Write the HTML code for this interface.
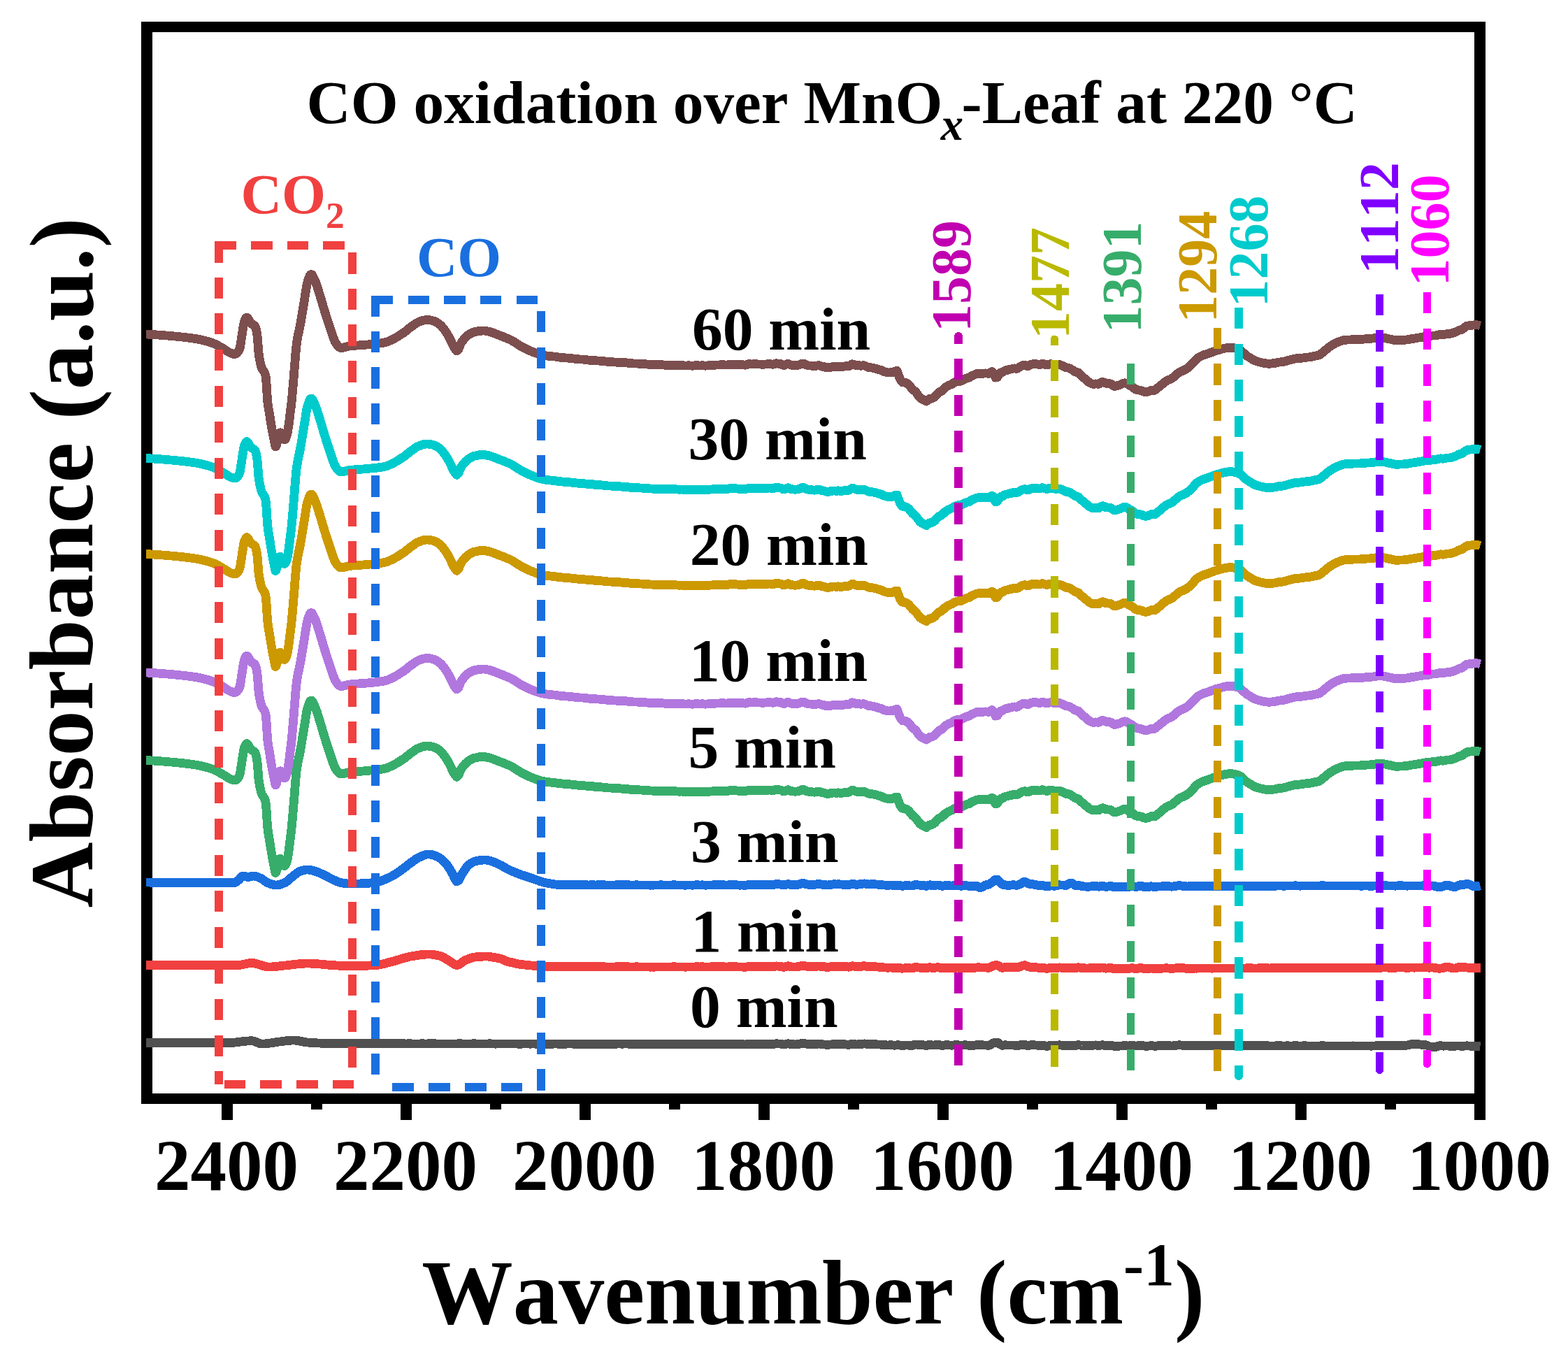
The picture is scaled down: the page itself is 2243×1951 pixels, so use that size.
<!DOCTYPE html>
<html lang="en">
<head>
<meta charset="utf-8">
<title>CO oxidation over MnOx-Leaf at 220 °C</title>
<style>
html,body{margin:0;padding:0;background:#fff;}
body{width:2243px;height:1951px;overflow:hidden;}
svg{display:block;}
svg text{font-family:"Liberation Serif",serif;font-weight:bold;font-kerning:none;font-variant-ligatures:none;white-space:pre;}
.curves path{fill:none;stroke-width:12.8;stroke-linejoin:round;stroke-linecap:butt;}
</style>
</head>
<body>
<svg width="2243" height="1951" viewBox="0 0 2243 1951">
<rect width="2243" height="1951" fill="#fff"/>
<g class="frame" shape-rendering="crispEdges">
<path d="M202 31H2125V1579H202Z M218 46V1564H2109V46Z" fill="#000" fill-rule="evenodd"/>
<g fill="#000"><rect x="317" y="1578" width="16" height="24"/><rect x="573" y="1578" width="16" height="24"/><rect x="829" y="1578" width="16" height="24"/><rect x="1085" y="1578" width="16" height="24"/><rect x="1341" y="1578" width="16" height="24"/><rect x="1597" y="1578" width="16" height="24"/><rect x="1853" y="1578" width="16" height="24"/><rect x="2109" y="1578" width="16" height="24"/><rect x="445" y="1578" width="16" height="9"/><rect x="701" y="1578" width="16" height="9"/><rect x="957" y="1578" width="16" height="9"/><rect x="1213" y="1578" width="16" height="9"/><rect x="1469" y="1578" width="16" height="9"/><rect x="1725" y="1578" width="16" height="9"/><rect x="1981" y="1578" width="16" height="9"/></g>
</g>
<g class="curves" shape-rendering="crispEdges">
<path d="M209.0 1491.8L210.0 1491.8L211.0 1491.8L212.0 1491.8L213.0 1491.8L214.0 1491.8L215.0 1491.8L216.0 1491.8L217.0 1491.8L218.0 1491.8L219.0 1491.8L220.0 1491.8L221.0 1491.8L222.0 1491.8L223.0 1491.8L224.0 1491.8L225.0 1491.8L226.0 1491.8L227.0 1491.8L228.0 1491.8L229.0 1491.8L230.0 1491.8L231.0 1491.8L232.0 1491.8L233.0 1491.8L234.0 1491.8L235.0 1491.8L236.0 1491.8L237.0 1491.8L238.0 1491.8L239.0 1491.8L240.0 1491.8L241.0 1491.8L242.0 1491.8L243.0 1491.8L244.0 1491.8L245.0 1491.8L246.0 1491.8L247.0 1491.8L248.0 1491.8L249.0 1491.8L250.0 1491.8L251.0 1491.8L252.0 1491.8L253.0 1491.8L254.0 1491.8L255.0 1491.8L256.0 1491.8L257.0 1491.8L258.0 1491.8L259.0 1491.8L260.0 1491.8L261.0 1491.8L262.0 1491.8L263.0 1491.8L264.0 1491.8L265.0 1491.8L266.0 1491.8L267.0 1491.8L268.0 1491.8L269.0 1491.8L270.0 1491.8L271.0 1491.8L272.0 1491.8L273.0 1491.8L274.0 1491.8L275.0 1491.8L276.0 1491.8L277.0 1491.8L278.0 1491.8L279.0 1491.8L280.0 1491.8L281.0 1491.8L282.0 1491.8L283.0 1491.8L284.0 1491.8L285.0 1491.8L286.0 1491.8L287.0 1491.8L288.0 1491.8L289.0 1491.8L290.0 1491.8L291.0 1491.8L292.0 1491.8L293.0 1491.8L294.0 1491.8L295.0 1491.8L296.0 1491.8L297.0 1491.8L298.0 1491.8L299.0 1491.8L300.0 1491.8L301.0 1491.8L302.0 1491.8L303.0 1491.8L304.0 1491.8L305.0 1491.8L306.0 1491.8L307.0 1491.8L308.0 1491.8L309.0 1491.8L310.0 1491.8L311.0 1491.8L312.0 1491.8L313.0 1491.8L314.0 1491.8L315.0 1491.8L316.0 1491.8L317.0 1491.8L318.0 1491.8L319.0 1491.8L320.0 1491.8L321.0 1491.8L322.0 1491.8L323.0 1491.8L324.0 1491.8L325.0 1491.8L326.0 1491.7L327.0 1491.7L328.0 1491.7L329.0 1491.6L330.0 1491.6L331.0 1491.5L332.0 1491.4L333.0 1491.4L334.0 1491.3L335.0 1491.2L336.0 1491.0L337.0 1490.9L338.0 1490.8L339.0 1490.7L340.0 1490.6L341.0 1490.4L342.0 1490.3L343.0 1490.2L344.0 1490.1L345.0 1489.9L346.0 1489.8L347.0 1489.7L348.0 1489.6L349.0 1489.5L350.0 1489.3L351.0 1489.2L352.0 1489.1L353.0 1489.1L354.0 1489.0L355.0 1488.9L356.0 1488.9L357.0 1488.8L358.0 1488.8L359.0 1488.8L360.0 1488.8L361.0 1488.8L362.0 1489.0L363.0 1489.2L364.0 1489.5L365.0 1489.9L366.0 1490.2L367.0 1490.7L368.0 1491.1L369.0 1491.5L370.0 1491.9L371.0 1492.3L372.0 1492.6L373.0 1492.8L374.0 1492.9L375.0 1493.0L376.0 1493.0L377.0 1493.0L378.0 1492.9L379.0 1492.9L380.0 1492.8L381.0 1492.7L382.0 1492.6L383.0 1492.5L384.0 1492.3L385.0 1492.2L386.0 1492.1L387.0 1491.9L388.0 1491.8L389.0 1491.6L390.0 1491.4L391.0 1491.3L392.0 1491.1L393.0 1491.0L394.0 1490.8L395.0 1490.7L396.0 1490.5L397.0 1490.4L398.0 1490.2L399.0 1490.1L400.0 1490.0L401.0 1489.9L402.0 1489.8L403.0 1489.6L404.0 1489.5L405.0 1489.4L406.0 1489.2L407.0 1489.1L408.0 1489.0L409.0 1488.9L410.0 1488.7L411.0 1488.6L412.0 1488.5L413.0 1488.4L414.0 1488.3L415.0 1488.2L416.0 1488.1L417.0 1488.1L418.0 1488.0L419.0 1488.0L420.0 1488.0L421.0 1488.0L422.0 1488.1L423.0 1488.2L424.0 1488.3L425.0 1488.4L426.0 1488.6L427.0 1488.7L428.0 1488.9L429.0 1489.1L430.0 1489.3L431.0 1489.5L432.0 1489.7L433.0 1489.9L434.0 1490.1L435.0 1490.3L436.0 1490.5L437.0 1490.7L438.0 1490.8L439.0 1490.9L440.0 1491.0L441.0 1491.1L442.0 1491.1L443.0 1491.2L444.0 1491.3L445.0 1491.3L446.0 1491.4L447.0 1491.5L448.0 1491.5L449.0 1491.6L450.0 1491.6L451.0 1491.7L452.0 1491.8L453.0 1491.8L454.0 1491.9L455.0 1491.9L456.0 1492.0L457.0 1492.0L458.0 1492.1L459.0 1492.1L460.0 1492.1L461.0 1492.2L462.0 1492.2L463.0 1492.3L464.0 1492.3L465.0 1492.3L466.0 1492.3L467.0 1492.4L468.0 1492.4L469.0 1492.4L470.0 1492.4L471.0 1492.5L472.0 1492.5L473.0 1492.5L474.0 1492.5L475.0 1492.5L476.0 1492.5L477.0 1492.5L478.0 1492.5L479.0 1492.5L480.0 1492.5L481.0 1492.5L482.0 1492.5L483.0 1492.5L484.0 1492.5L485.0 1492.5L486.0 1492.6L487.0 1492.6L488.0 1492.6L489.0 1492.6L490.0 1492.6L491.0 1492.6L492.0 1492.6L493.0 1492.6L494.0 1492.6L495.0 1492.6L496.0 1492.6L497.0 1492.6L498.0 1492.6L499.0 1492.6L500.0 1492.6L501.0 1492.6L502.0 1492.6L503.0 1492.6L504.0 1492.6L505.0 1492.6L506.0 1492.6L507.0 1492.6L508.0 1492.6L509.0 1492.6L510.0 1492.7L511.0 1492.7L512.0 1492.7L513.0 1492.7L514.0 1492.7L515.0 1492.7L516.0 1492.7L517.0 1492.7L518.0 1492.7L519.0 1492.7L520.0 1492.7L522.5 1492.7L524.9 1492.7L527.4 1492.7L529.9 1492.7L532.4 1492.7L534.8 1492.7L537.3 1492.7L539.8 1492.7L542.2 1492.7L544.7 1492.8L547.2 1492.8L549.6 1492.8L552.1 1492.8L554.6 1492.7L557.1 1492.7L559.5 1492.8L562.0 1492.8L564.5 1492.8L566.9 1492.7L569.4 1492.8L571.9 1492.7L574.3 1492.8L576.8 1492.8L579.3 1492.9L581.8 1492.9L584.2 1492.8L586.7 1492.8L589.2 1492.9L591.6 1493.0L594.1 1492.9L596.6 1492.9L599.0 1493.0L601.5 1492.9L604.0 1492.8L606.5 1492.9L608.9 1492.9L611.4 1492.9L613.9 1492.8L616.3 1492.8L618.8 1492.8L621.3 1492.8L623.7 1492.9L626.2 1492.9L628.7 1492.9L631.2 1492.9L633.6 1493.0L636.1 1493.0L638.6 1492.9L641.0 1492.9L643.5 1492.9L646.0 1492.9L648.4 1493.0L650.9 1493.0L653.4 1493.0L655.9 1492.8L658.3 1492.7L660.8 1492.9L663.3 1493.0L665.7 1493.0L668.2 1493.0L670.7 1492.9L673.1 1493.0L675.6 1492.9L678.1 1492.8L680.6 1492.9L683.0 1492.9L685.5 1492.9L688.0 1493.0L690.4 1493.0L692.9 1492.9L695.4 1492.9L697.8 1492.9L700.3 1492.8L702.8 1492.9L705.3 1493.0L707.7 1493.1L710.2 1493.1L712.7 1493.0L715.1 1493.0L717.6 1492.9L720.1 1492.9L722.5 1493.0L725.0 1493.0L727.5 1493.0L730.0 1493.0L732.4 1493.0L734.9 1493.0L737.4 1493.0L739.8 1493.1L742.3 1493.1L744.8 1493.2L747.2 1493.1L749.7 1493.0L752.2 1493.0L754.7 1493.0L757.1 1493.1L759.6 1493.1L762.1 1493.0L764.5 1493.1L767.0 1493.1L769.5 1493.1L771.9 1493.1L774.4 1493.2L776.9 1493.2L779.4 1493.2L781.8 1493.2L784.3 1493.2L786.8 1493.1L789.2 1493.1L791.7 1493.1L794.2 1493.0L796.6 1493.1L799.1 1493.2L801.6 1493.2L804.1 1493.1L806.5 1493.1L809.0 1493.2L811.5 1493.1L813.9 1493.0L816.4 1493.0L818.9 1493.1L821.3 1493.1L823.8 1493.2L826.3 1493.2L828.8 1493.2L831.2 1493.2L833.7 1493.1L836.2 1493.1L838.6 1493.2L841.1 1493.3L843.6 1493.3L846.0 1493.1L848.5 1493.1L851.0 1493.3L853.5 1493.3L855.9 1493.2L858.4 1493.2L860.9 1493.2L863.3 1493.2L865.8 1493.2L868.3 1493.3L870.7 1493.3L873.2 1493.2L875.7 1493.2L878.2 1493.3L880.6 1493.2L883.1 1493.1L885.6 1493.0L888.0 1493.1L890.5 1493.2L893.0 1493.0L895.4 1493.0L897.9 1493.1L900.4 1493.2L902.9 1493.3L905.3 1493.2L907.8 1493.2L910.3 1493.1L912.7 1493.2L915.2 1493.3L917.7 1493.3L920.1 1493.3L922.6 1493.2L925.1 1493.2L927.6 1493.3L930.0 1493.4L932.5 1493.4L935.0 1493.4L937.4 1493.3L939.9 1493.3L942.4 1493.2L944.8 1493.1L947.3 1493.2L949.8 1493.3L952.3 1493.3L954.7 1493.3L957.2 1493.3L959.7 1493.2L962.1 1493.1L964.6 1493.1L967.1 1493.2L969.5 1493.3L972.0 1493.4L974.5 1493.2L977.0 1493.2L979.4 1493.4L981.9 1493.4L984.4 1493.2L986.8 1493.3L989.3 1493.4L991.8 1493.4L994.2 1493.2L996.7 1493.1L999.2 1493.2L1001.7 1493.3L1004.1 1493.1L1006.6 1493.3L1009.1 1493.5L1011.5 1493.4L1014.0 1493.3L1016.5 1493.3L1018.9 1493.2L1021.4 1493.1L1023.9 1493.2L1026.4 1493.2L1028.8 1493.2L1031.3 1493.2L1033.8 1493.2L1036.2 1493.3L1038.7 1493.6L1041.2 1493.4L1043.6 1493.1L1046.1 1493.1L1048.6 1493.1L1051.1 1493.2L1053.5 1493.4L1056.0 1493.6L1058.5 1493.7L1060.9 1493.6L1063.4 1493.7L1065.9 1494.0L1068.3 1493.6L1070.8 1493.1L1073.3 1493.1L1075.8 1493.3L1078.2 1493.1L1080.7 1493.2L1083.2 1493.3L1085.6 1493.3L1088.1 1493.4L1090.6 1493.6L1093.0 1493.5L1095.5 1493.4L1098.0 1493.3L1100.5 1493.2L1102.9 1493.3L1105.4 1493.6L1107.9 1493.3L1110.3 1492.7L1112.8 1492.9L1115.3 1493.0L1117.7 1493.2L1120.2 1494.1L1122.7 1494.0L1125.2 1493.1L1127.6 1492.7L1130.1 1493.4L1132.6 1493.8L1135.0 1493.8L1137.5 1494.0L1140.0 1493.8L1142.4 1493.4L1144.9 1492.9L1147.4 1492.1L1149.9 1492.1L1152.3 1492.9L1154.8 1493.4L1157.3 1493.7L1159.7 1493.7L1162.2 1493.7L1164.7 1493.9L1167.1 1493.5L1169.6 1493.2L1172.1 1493.0L1174.6 1493.5L1177.0 1493.9L1179.5 1494.0L1182.0 1494.4L1184.4 1494.5L1186.9 1494.1L1189.4 1493.9L1191.8 1493.4L1194.3 1493.5L1196.8 1493.7L1199.3 1493.3L1201.7 1493.6L1204.2 1493.8L1206.7 1493.8L1209.1 1493.8L1211.6 1494.1L1214.1 1494.4L1216.5 1493.8L1219.0 1493.1L1221.5 1493.3L1224.0 1494.0L1226.4 1493.9L1228.9 1493.6L1231.4 1493.7L1233.8 1493.1L1236.3 1492.9L1238.8 1493.2L1241.2 1493.7L1243.7 1493.8L1246.2 1493.6L1248.7 1493.6L1251.1 1493.6L1253.6 1493.8L1256.1 1494.0L1258.5 1494.1L1261.0 1494.2L1263.5 1494.6L1265.9 1494.8L1268.4 1494.9L1270.9 1494.9L1273.4 1494.7L1275.8 1494.8L1278.3 1495.1L1280.8 1495.1L1283.2 1494.8L1285.7 1494.7L1288.2 1495.2L1290.6 1495.9L1293.1 1495.4L1295.6 1495.0L1298.1 1495.0L1300.5 1495.2L1303.0 1495.4L1305.5 1495.4L1307.9 1494.3L1310.4 1494.0L1312.9 1494.3L1315.3 1494.6L1317.8 1494.6L1320.3 1494.6L1322.8 1495.1L1325.2 1495.6L1327.7 1494.6L1330.2 1494.2L1332.6 1494.9L1335.1 1495.1L1337.6 1494.8L1340.0 1494.4L1342.5 1494.3L1345.0 1495.0L1347.5 1495.5L1349.9 1495.3L1352.4 1494.8L1354.9 1494.8L1357.3 1494.9L1359.8 1495.1L1362.3 1495.2L1364.7 1494.9L1367.2 1494.8L1369.7 1494.7L1372.2 1495.0L1374.6 1495.5L1377.1 1495.0L1379.6 1494.8L1382.0 1494.8L1384.5 1495.1L1387.0 1495.6L1389.4 1495.3L1391.9 1495.3L1394.4 1495.1L1396.9 1494.7L1399.3 1494.6L1401.8 1494.7L1404.3 1494.8L1406.7 1494.9L1409.2 1494.9L1411.7 1495.2L1414.1 1495.5L1416.6 1494.8L1419.1 1492.8L1421.6 1491.6L1424.0 1491.1L1426.5 1491.1L1429.0 1492.3L1431.4 1494.3L1433.9 1495.4L1436.4 1494.9L1438.8 1494.8L1441.3 1495.0L1443.8 1494.9L1446.3 1495.0L1448.7 1494.9L1451.2 1495.1L1453.7 1495.8L1456.1 1495.7L1458.6 1495.1L1461.1 1494.4L1463.5 1494.3L1466.0 1494.4L1468.5 1495.3L1471.0 1495.7L1473.4 1495.0L1475.9 1494.6L1478.4 1494.6L1480.8 1494.9L1483.3 1495.0L1485.8 1495.6L1488.2 1495.6L1490.7 1495.1L1493.2 1495.4L1495.7 1496.1L1498.1 1496.4L1500.6 1495.8L1503.1 1495.5L1505.5 1495.6L1508.0 1495.8L1510.5 1495.7L1512.9 1495.2L1515.4 1494.8L1517.9 1495.1L1520.4 1495.2L1522.8 1495.6L1525.3 1495.8L1527.8 1495.2L1530.2 1495.1L1532.7 1495.2L1535.2 1495.3L1537.6 1495.7L1540.1 1495.2L1542.6 1494.5L1545.1 1495.0L1547.5 1495.5L1550.0 1495.5L1552.5 1495.7L1554.9 1495.6L1557.4 1495.7L1559.9 1495.4L1562.3 1495.2L1564.8 1495.1L1567.3 1494.9L1569.8 1495.4L1572.2 1495.7L1574.7 1495.0L1577.2 1494.6L1579.6 1495.2L1582.1 1495.9L1584.6 1495.6L1587.0 1495.2L1589.5 1495.1L1592.0 1496.0L1594.5 1496.4L1596.9 1496.1L1599.4 1496.1L1601.9 1496.1L1604.3 1496.0L1606.8 1495.7L1609.3 1495.7L1611.7 1495.8L1614.2 1496.0L1616.7 1495.6L1619.2 1495.2L1621.6 1495.6L1624.1 1496.1L1626.6 1495.9L1629.0 1495.4L1631.5 1495.2L1634.0 1495.4L1636.4 1496.0L1638.9 1496.4L1641.4 1496.3L1643.9 1496.0L1646.3 1495.5L1648.8 1495.8L1651.3 1496.3L1653.7 1496.2L1656.2 1495.8L1658.7 1495.8L1661.1 1495.7L1663.6 1495.6L1666.1 1495.4L1668.6 1495.1L1671.0 1495.4L1673.5 1495.8L1676.0 1496.0L1678.4 1495.8L1680.9 1495.5L1683.4 1495.2L1685.8 1494.8L1688.3 1494.8L1690.8 1495.2L1693.3 1495.3L1695.7 1495.6L1698.2 1495.9L1700.7 1495.7L1703.1 1495.8L1705.6 1495.8L1708.1 1495.7L1710.5 1495.6L1713.0 1495.6L1715.5 1495.5L1718.0 1495.5L1720.4 1495.5L1722.9 1495.5L1725.4 1495.6L1727.8 1495.6L1730.3 1495.6L1732.8 1495.6L1735.2 1495.6L1737.7 1495.5L1740.2 1495.5L1742.7 1495.6L1745.1 1495.6L1747.6 1495.5L1750.1 1495.5L1752.5 1495.6L1755.0 1495.6L1757.5 1495.6L1759.9 1495.7L1762.4 1495.7L1764.9 1495.7L1767.4 1495.6L1769.8 1495.5L1772.3 1495.5L1774.8 1495.6L1777.2 1495.7L1779.7 1495.8L1782.2 1495.8L1784.6 1495.7L1787.1 1495.6L1789.6 1495.6L1792.1 1495.7L1794.5 1495.8L1797.0 1495.8L1799.5 1495.8L1801.9 1495.8L1804.4 1495.8L1806.9 1495.9L1809.3 1495.8L1811.8 1495.8L1814.3 1495.9L1816.8 1495.9L1819.2 1495.9L1821.7 1495.9L1824.2 1495.9L1826.6 1495.8L1829.1 1495.7L1831.6 1495.7L1834.0 1495.9L1836.5 1496.0L1839.0 1495.9L1841.5 1495.8L1843.9 1495.9L1846.4 1495.9L1848.9 1495.9L1851.3 1495.8L1853.8 1495.8L1856.3 1495.9L1858.7 1496.0L1861.2 1496.0L1863.7 1495.9L1866.2 1495.8L1868.6 1495.9L1871.1 1495.9L1873.6 1495.9L1876.0 1496.0L1878.5 1496.0L1881.0 1495.9L1883.4 1496.0L1885.9 1496.1L1888.4 1495.9L1890.9 1495.8L1893.3 1495.8L1895.8 1496.0L1898.3 1496.1L1900.7 1496.0L1903.2 1495.9L1905.7 1495.9L1908.1 1496.0L1910.6 1496.0L1913.1 1495.9L1915.6 1495.9L1918.0 1495.9L1920.5 1495.9L1923.0 1495.9L1925.4 1496.0L1927.9 1495.9L1930.4 1496.0L1932.8 1496.1L1935.3 1495.9L1937.8 1496.0L1940.3 1496.0L1942.7 1496.0L1945.2 1496.0L1947.7 1496.1L1950.1 1496.0L1952.6 1496.0L1955.1 1495.9L1957.5 1496.0L1960.0 1496.1L1962.5 1496.1L1965.0 1496.0L1967.4 1495.9L1969.9 1495.7L1972.4 1495.8L1974.8 1495.9L1977.3 1495.8L1979.8 1495.6L1982.2 1495.6L1984.7 1495.6L1987.2 1495.8L1989.7 1495.7L1992.1 1495.6L1994.6 1495.7L1997.1 1495.7L1999.5 1495.5L2002.0 1495.4L2004.5 1495.3L2006.9 1495.4L2009.4 1495.5L2011.9 1495.3L2014.4 1494.8L2016.8 1494.0L2019.3 1493.5L2021.8 1493.5L2024.2 1493.6L2026.7 1493.7L2029.2 1493.8L2031.6 1494.0L2034.1 1494.3L2036.6 1494.4L2039.1 1494.7L2041.5 1495.3L2044.0 1496.4L2046.5 1497.4L2048.9 1497.8L2051.4 1498.0L2053.9 1497.6L2056.3 1496.6L2058.8 1495.8L2061.3 1495.7L2063.8 1496.1L2066.2 1496.1L2068.7 1495.9L2071.2 1495.9L2073.6 1496.2L2076.1 1496.1L2078.6 1496.1L2081.0 1496.2L2083.5 1496.1L2086.0 1496.0L2088.5 1496.1L2090.9 1496.4L2093.4 1496.3L2095.9 1496.0L2098.3 1495.8L2100.8 1496.0L2103.3 1496.2L2105.7 1496.2L2108.2 1496.2L2110.7 1496.1L2113.2 1496.2L2115.6 1496.2L2117.5 1496.3" stroke="#515151"/>
<path d="M209.0 1380.5L210.0 1380.5L211.0 1380.5L212.0 1380.5L213.0 1380.5L214.0 1380.5L215.0 1380.5L216.0 1380.5L217.0 1380.5L218.0 1380.5L219.0 1380.5L220.0 1380.5L221.0 1380.5L222.0 1380.5L223.0 1380.5L224.0 1380.5L225.0 1380.5L226.0 1380.5L227.0 1380.5L228.0 1380.5L229.0 1380.5L230.0 1380.5L231.0 1380.5L232.0 1380.5L233.0 1380.5L234.0 1380.5L235.0 1380.5L236.0 1380.5L237.0 1380.5L238.0 1380.5L239.0 1380.5L240.0 1380.5L241.0 1380.5L242.0 1380.5L243.0 1380.5L244.0 1380.5L245.0 1380.5L246.0 1380.5L247.0 1380.5L248.0 1380.5L249.0 1380.5L250.0 1380.5L251.0 1380.5L252.0 1380.5L253.0 1380.5L254.0 1380.5L255.0 1380.5L256.0 1380.5L257.0 1380.5L258.0 1380.5L259.0 1380.5L260.0 1380.5L261.0 1380.5L262.0 1380.5L263.0 1380.5L264.0 1380.5L265.0 1380.5L266.0 1380.5L267.0 1380.5L268.0 1380.5L269.0 1380.5L270.0 1380.5L271.0 1380.5L272.0 1380.5L273.0 1380.5L274.0 1380.5L275.0 1380.5L276.0 1380.5L277.0 1380.5L278.0 1380.5L279.0 1380.5L280.0 1380.5L281.0 1380.5L282.0 1380.5L283.0 1380.5L284.0 1380.5L285.0 1380.5L286.0 1380.5L287.0 1380.5L288.0 1380.5L289.0 1380.5L290.0 1380.5L291.0 1380.5L292.0 1380.5L293.0 1380.5L294.0 1380.5L295.0 1380.5L296.0 1380.5L297.0 1380.5L298.0 1380.5L299.0 1380.5L300.0 1380.5L301.0 1380.5L302.0 1380.5L303.0 1380.5L304.0 1380.5L305.0 1380.5L306.0 1380.5L307.0 1380.5L308.0 1380.5L309.0 1380.5L310.0 1380.5L311.0 1380.5L312.0 1380.5L313.0 1380.5L314.0 1380.5L315.0 1380.5L316.0 1380.5L317.0 1380.5L318.0 1380.5L319.0 1380.5L320.0 1380.5L321.0 1380.5L322.0 1380.5L323.0 1380.5L324.0 1380.5L325.0 1380.5L326.0 1380.5L327.0 1380.5L328.0 1380.5L329.0 1380.5L330.0 1380.5L331.0 1380.5L332.0 1380.5L333.0 1380.5L334.0 1380.5L335.0 1380.5L336.0 1380.5L337.0 1380.5L338.0 1380.5L339.0 1380.5L340.0 1380.5L341.0 1380.5L342.0 1380.4L343.0 1380.3L344.0 1380.2L345.0 1380.0L346.0 1379.9L347.0 1379.7L348.0 1379.4L349.0 1379.2L350.0 1379.0L351.0 1378.8L352.0 1378.6L353.0 1378.3L354.0 1378.1L355.0 1378.0L356.0 1377.8L357.0 1377.7L358.0 1377.6L359.0 1377.5L360.0 1377.5L361.0 1377.5L362.0 1377.6L363.0 1377.7L364.0 1377.9L365.0 1378.1L366.0 1378.3L367.0 1378.6L368.0 1378.8L369.0 1379.1L370.0 1379.4L371.0 1379.8L372.0 1380.1L373.0 1380.4L374.0 1380.7L375.0 1381.1L376.0 1381.4L377.0 1381.7L378.0 1381.9L379.0 1382.2L380.0 1382.4L381.0 1382.6L382.0 1382.8L383.0 1382.9L384.0 1383.0L385.0 1383.0L386.0 1383.0L387.0 1383.0L388.0 1382.9L389.0 1382.9L390.0 1382.8L391.0 1382.8L392.0 1382.7L393.0 1382.6L394.0 1382.5L395.0 1382.4L396.0 1382.3L397.0 1382.2L398.0 1382.1L399.0 1381.9L400.0 1381.8L401.0 1381.7L402.0 1381.6L403.0 1381.5L404.0 1381.4L405.0 1381.2L406.0 1381.1L407.0 1381.0L408.0 1381.0L409.0 1380.9L410.0 1380.8L411.0 1380.7L412.0 1380.5L413.0 1380.4L414.0 1380.3L415.0 1380.2L416.0 1380.1L417.0 1380.0L418.0 1379.8L419.0 1379.7L420.0 1379.6L421.0 1379.5L422.0 1379.3L423.0 1379.2L424.0 1379.1L425.0 1379.0L426.0 1378.9L427.0 1378.8L428.0 1378.7L429.0 1378.6L430.0 1378.5L431.0 1378.4L432.0 1378.3L433.0 1378.3L434.0 1378.2L435.0 1378.1L436.0 1378.1L437.0 1378.0L438.0 1378.0L439.0 1378.0L440.0 1378.0L441.0 1378.0L442.0 1378.0L443.0 1378.0L444.0 1378.1L445.0 1378.1L446.0 1378.1L447.0 1378.2L448.0 1378.2L449.0 1378.3L450.0 1378.4L451.0 1378.4L452.0 1378.5L453.0 1378.6L454.0 1378.7L455.0 1378.8L456.0 1378.9L457.0 1378.9L458.0 1379.0L459.0 1379.1L460.0 1379.2L461.0 1379.3L462.0 1379.4L463.0 1379.5L464.0 1379.6L465.0 1379.7L466.0 1379.8L467.0 1379.9L468.0 1380.0L469.0 1380.1L470.0 1380.1L471.0 1380.2L472.0 1380.3L473.0 1380.4L474.0 1380.4L475.0 1380.5L476.0 1380.6L477.0 1380.6L478.0 1380.7L479.0 1380.8L480.0 1380.8L481.0 1380.9L482.0 1381.0L483.0 1381.0L484.0 1381.1L485.0 1381.1L486.0 1381.2L487.0 1381.3L488.0 1381.3L489.0 1381.4L490.0 1381.4L491.0 1381.5L492.0 1381.5L493.0 1381.6L494.0 1381.6L495.0 1381.7L496.0 1381.7L497.0 1381.7L498.0 1381.7L499.0 1381.7L500.0 1381.8L501.0 1381.7L502.0 1381.7L503.0 1381.7L504.0 1381.7L505.0 1381.7L506.0 1381.7L507.0 1381.7L508.0 1381.7L509.0 1381.7L510.0 1381.6L511.0 1381.6L512.0 1381.6L513.0 1381.6L514.0 1381.6L515.0 1381.5L516.0 1381.5L517.0 1381.5L518.0 1381.4L519.0 1381.4L520.0 1381.4L522.5 1381.3L524.9 1381.2L527.4 1381.1L529.9 1380.9L532.4 1380.8L534.8 1380.7L537.3 1380.5L539.8 1380.3L542.2 1380.0L544.7 1379.5L547.2 1379.0L549.6 1378.4L552.1 1377.8L554.6 1377.1L557.1 1376.4L559.5 1375.7L562.0 1375.1L564.5 1374.5L566.9 1373.7L569.4 1373.0L571.9 1372.2L574.3 1371.4L576.8 1370.7L579.3 1370.0L581.8 1369.4L584.2 1368.7L586.7 1368.1L589.2 1367.8L591.6 1367.4L594.1 1366.9L596.6 1366.5L599.0 1366.2L601.5 1365.8L604.0 1365.5L606.5 1365.3L608.9 1365.1L611.4 1365.0L613.9 1365.0L616.3 1365.0L618.8 1365.3L621.3 1365.7L623.7 1366.2L626.2 1366.7L628.7 1367.2L631.2 1367.8L633.6 1368.9L636.1 1370.4L638.6 1371.9L641.0 1373.5L643.5 1375.1L646.0 1376.6L648.4 1378.2L650.9 1379.7L653.4 1380.5L655.9 1380.0L658.3 1378.4L660.8 1376.6L663.3 1374.8L665.7 1373.5L668.2 1372.5L670.7 1371.5L673.1 1370.6L675.6 1369.8L678.1 1369.2L680.6 1368.9L683.0 1368.6L685.5 1368.3L688.0 1368.3L690.4 1368.1L692.9 1367.9L695.4 1368.0L697.8 1368.1L700.3 1368.3L702.8 1368.7L705.3 1369.2L707.7 1369.6L710.2 1370.1L712.7 1370.5L715.1 1371.0L717.6 1371.7L720.1 1372.9L722.5 1374.1L725.0 1375.0L727.5 1375.7L730.0 1376.3L732.4 1376.8L734.9 1377.4L737.4 1378.0L739.8 1378.5L742.3 1379.0L744.8 1379.4L747.2 1379.7L749.7 1379.9L752.2 1380.2L754.7 1380.5L757.1 1380.8L759.6 1381.0L762.1 1381.2L764.5 1381.5L767.0 1381.7L769.5 1381.8L771.9 1382.0L774.4 1382.1L776.9 1382.1L779.4 1382.2L781.8 1382.2L784.3 1382.2L786.8 1382.1L789.2 1382.2L791.7 1382.2L794.2 1382.1L796.6 1382.2L799.1 1382.4L801.6 1382.4L804.1 1382.3L806.5 1382.4L809.0 1382.4L811.5 1382.4L813.9 1382.3L816.4 1382.4L818.9 1382.5L821.3 1382.5L823.8 1382.6L826.3 1382.6L828.8 1382.6L831.2 1382.6L833.7 1382.5L836.2 1382.6L838.6 1382.7L841.1 1382.8L843.6 1382.8L846.0 1382.6L848.5 1382.7L851.0 1382.8L853.5 1382.8L855.9 1382.7L858.4 1382.8L860.9 1382.8L863.3 1382.8L865.8 1382.9L868.3 1382.9L870.7 1382.9L873.2 1382.9L875.7 1382.9L878.2 1383.0L880.6 1382.9L883.1 1382.8L885.6 1382.7L888.0 1382.8L890.5 1382.9L893.0 1382.7L895.4 1382.7L897.9 1382.8L900.4 1383.0L902.9 1383.0L905.3 1383.0L907.8 1382.9L910.3 1382.8L912.7 1382.9L915.2 1383.0L917.7 1383.0L920.1 1383.1L922.6 1383.0L925.1 1382.9L927.6 1383.0L930.0 1383.2L932.5 1383.1L935.0 1383.1L937.4 1383.1L939.9 1383.0L942.4 1383.0L944.8 1382.9L947.3 1382.9L949.8 1383.1L952.3 1383.0L954.7 1383.0L957.2 1383.1L959.7 1383.0L962.1 1382.8L964.6 1382.8L967.1 1382.9L969.5 1383.0L972.0 1383.1L974.5 1383.0L977.0 1382.9L979.4 1383.1L981.9 1383.1L984.4 1382.9L986.8 1382.9L989.3 1383.0L991.8 1383.0L994.2 1382.9L996.7 1382.7L999.2 1382.9L1001.7 1382.9L1004.1 1382.8L1006.6 1382.9L1009.1 1383.1L1011.5 1383.0L1014.0 1382.9L1016.5 1382.9L1018.9 1382.8L1021.4 1382.7L1023.9 1382.7L1026.4 1382.7L1028.8 1382.7L1031.3 1382.7L1033.8 1382.7L1036.2 1382.9L1038.7 1383.1L1041.2 1382.9L1043.6 1382.6L1046.1 1382.5L1048.6 1382.6L1051.1 1382.6L1053.5 1382.8L1056.0 1383.0L1058.5 1383.1L1060.9 1383.0L1063.4 1383.2L1065.9 1383.4L1068.3 1383.0L1070.8 1382.5L1073.3 1382.5L1075.8 1382.7L1078.2 1382.5L1080.7 1382.5L1083.2 1382.7L1085.6 1382.6L1088.1 1382.7L1090.6 1382.9L1093.0 1382.8L1095.5 1382.7L1098.0 1382.6L1100.5 1382.4L1102.9 1382.5L1105.4 1382.8L1107.9 1382.5L1110.3 1381.9L1112.8 1382.1L1115.3 1382.2L1117.7 1382.4L1120.2 1383.2L1122.7 1383.1L1125.2 1382.2L1127.6 1381.8L1130.1 1382.5L1132.6 1382.9L1135.0 1382.9L1137.5 1383.1L1140.0 1382.9L1142.4 1382.5L1144.9 1382.0L1147.4 1381.1L1149.9 1381.1L1152.3 1381.9L1154.8 1382.4L1157.3 1382.6L1159.7 1382.6L1162.2 1382.6L1164.7 1382.8L1167.1 1382.5L1169.6 1382.1L1172.1 1381.9L1174.6 1382.4L1177.0 1382.8L1179.5 1382.8L1182.0 1383.3L1184.4 1383.4L1186.9 1382.9L1189.4 1382.7L1191.8 1382.3L1194.3 1382.3L1196.8 1382.5L1199.3 1382.1L1201.7 1382.4L1204.2 1382.6L1206.7 1382.6L1209.1 1382.6L1211.6 1382.8L1214.1 1383.2L1216.5 1382.6L1219.0 1381.8L1221.5 1382.0L1224.0 1382.7L1226.4 1382.7L1228.9 1382.4L1231.4 1382.5L1233.8 1381.9L1236.3 1381.7L1238.8 1382.1L1241.2 1382.6L1243.7 1382.7L1246.2 1382.5L1248.7 1382.6L1251.1 1382.6L1253.6 1382.9L1256.1 1383.1L1258.5 1383.2L1261.0 1383.3L1263.5 1383.8L1265.9 1384.0L1268.4 1384.1L1270.9 1384.2L1273.4 1384.0L1275.8 1384.1L1278.3 1384.4L1280.8 1384.5L1283.2 1384.2L1285.7 1384.2L1288.2 1384.7L1290.6 1385.3L1293.1 1384.9L1295.6 1384.5L1298.1 1384.5L1300.5 1384.7L1303.0 1384.9L1305.5 1384.9L1307.9 1383.8L1310.4 1383.5L1312.9 1383.8L1315.3 1384.1L1317.8 1384.1L1320.3 1384.1L1322.8 1384.6L1325.2 1385.1L1327.7 1384.1L1330.2 1383.7L1332.6 1384.4L1335.1 1384.5L1337.6 1384.3L1340.0 1383.8L1342.5 1383.8L1345.0 1384.4L1347.5 1385.0L1349.9 1384.8L1352.4 1384.2L1354.9 1384.2L1357.3 1384.4L1359.8 1384.5L1362.3 1384.6L1364.7 1384.3L1367.2 1384.2L1369.7 1384.0L1372.2 1384.4L1374.6 1384.9L1377.1 1384.3L1379.6 1384.1L1382.0 1384.1L1384.5 1384.4L1387.0 1384.8L1389.4 1384.6L1391.9 1384.5L1394.4 1384.3L1396.9 1383.9L1399.3 1383.7L1401.8 1383.9L1404.3 1383.9L1406.7 1384.0L1409.2 1383.9L1411.7 1384.2L1414.1 1384.5L1416.6 1383.8L1419.1 1382.0L1421.6 1381.0L1424.0 1380.6L1426.5 1380.6L1429.0 1381.6L1431.4 1383.4L1433.9 1384.4L1436.4 1383.8L1438.8 1383.6L1441.3 1383.8L1443.8 1383.5L1446.3 1383.6L1448.7 1383.3L1451.2 1383.4L1453.7 1383.9L1456.1 1383.7L1458.6 1382.8L1461.1 1381.9L1463.5 1381.1L1466.0 1380.6L1468.5 1381.6L1471.0 1382.9L1473.4 1383.3L1475.9 1383.2L1478.4 1383.3L1480.8 1383.6L1483.3 1383.8L1485.8 1384.5L1488.2 1384.5L1490.7 1384.0L1493.2 1384.4L1495.7 1385.1L1498.1 1385.4L1500.6 1384.8L1503.1 1384.5L1505.5 1384.7L1508.0 1384.8L1510.5 1384.7L1512.9 1384.3L1515.4 1383.9L1517.9 1384.2L1520.4 1384.3L1522.8 1384.7L1525.3 1384.9L1527.8 1384.4L1530.2 1384.2L1532.7 1384.3L1535.2 1384.5L1537.6 1384.9L1540.1 1384.4L1542.6 1383.7L1545.1 1384.2L1547.5 1384.7L1550.0 1384.8L1552.5 1384.9L1554.9 1384.9L1557.4 1384.9L1559.9 1384.7L1562.3 1384.5L1564.8 1384.4L1567.3 1384.2L1569.8 1384.7L1572.2 1385.0L1574.7 1384.3L1577.2 1383.9L1579.6 1384.6L1582.1 1385.2L1584.6 1384.9L1587.0 1384.6L1589.5 1384.4L1592.0 1385.3L1594.5 1385.8L1596.9 1385.5L1599.4 1385.5L1601.9 1385.5L1604.3 1385.4L1606.8 1385.1L1609.3 1385.1L1611.7 1385.2L1614.2 1385.4L1616.7 1385.0L1619.2 1384.6L1621.6 1385.0L1624.1 1385.6L1626.6 1385.4L1629.0 1384.8L1631.5 1384.7L1634.0 1384.8L1636.4 1385.5L1638.9 1385.9L1641.4 1385.8L1643.9 1385.4L1646.3 1385.0L1648.8 1385.3L1651.3 1385.8L1653.7 1385.6L1656.2 1385.3L1658.7 1385.3L1661.1 1385.2L1663.6 1385.1L1666.1 1384.9L1668.6 1384.6L1671.0 1384.9L1673.5 1385.3L1676.0 1385.5L1678.4 1385.3L1680.9 1385.0L1683.4 1384.7L1685.8 1384.3L1688.3 1384.3L1690.8 1384.7L1693.3 1384.8L1695.7 1385.1L1698.2 1385.4L1700.7 1385.2L1703.1 1385.3L1705.6 1385.3L1708.1 1385.2L1710.5 1385.1L1713.0 1385.1L1715.5 1385.0L1718.0 1385.0L1720.4 1385.0L1722.9 1385.0L1725.4 1385.0L1727.8 1385.1L1730.3 1385.0L1732.8 1385.1L1735.2 1385.1L1737.7 1384.9L1740.2 1384.9L1742.7 1385.0L1745.1 1385.0L1747.6 1384.9L1750.1 1384.9L1752.5 1385.0L1755.0 1385.0L1757.5 1384.9L1759.9 1385.0L1762.4 1385.0L1764.9 1384.9L1767.4 1384.9L1769.8 1384.8L1772.3 1384.8L1774.8 1384.8L1777.2 1384.9L1779.7 1385.0L1782.2 1384.9L1784.6 1384.8L1787.1 1384.7L1789.6 1384.8L1792.1 1384.9L1794.5 1384.9L1797.0 1384.9L1799.5 1384.9L1801.9 1384.8L1804.4 1384.8L1806.9 1384.9L1809.3 1384.8L1811.8 1384.8L1814.3 1384.9L1816.8 1384.9L1819.2 1384.8L1821.7 1384.8L1824.2 1384.8L1826.6 1384.7L1829.1 1384.5L1831.6 1384.6L1834.0 1384.8L1836.5 1384.8L1839.0 1384.7L1841.5 1384.6L1843.9 1384.6L1846.4 1384.7L1848.9 1384.6L1851.3 1384.5L1853.8 1384.5L1856.3 1384.6L1858.7 1384.7L1861.2 1384.6L1863.7 1384.6L1866.2 1384.5L1868.6 1384.5L1871.1 1384.5L1873.6 1384.5L1876.0 1384.6L1878.5 1384.5L1881.0 1384.5L1883.4 1384.6L1885.9 1384.6L1888.4 1384.5L1890.9 1384.3L1893.3 1384.3L1895.8 1384.5L1898.3 1384.6L1900.7 1384.5L1903.2 1384.4L1905.7 1384.4L1908.1 1384.5L1910.6 1384.4L1913.1 1384.4L1915.6 1384.4L1918.0 1384.4L1920.5 1384.3L1923.0 1384.4L1925.4 1384.4L1927.9 1384.4L1930.4 1384.4L1932.8 1384.5L1935.3 1384.3L1937.8 1384.3L1940.3 1384.4L1942.7 1384.4L1945.2 1384.4L1947.7 1384.4L1950.1 1384.4L1952.6 1384.3L1955.1 1384.2L1957.5 1384.3L1960.0 1384.5L1962.5 1384.4L1965.0 1384.4L1967.4 1384.2L1969.9 1384.1L1972.4 1384.1L1974.8 1384.2L1977.3 1384.1L1979.8 1384.0L1982.2 1384.0L1984.7 1384.1L1987.2 1384.2L1989.7 1384.1L1992.1 1384.1L1994.6 1384.2L1997.1 1384.2L1999.5 1384.0L2002.0 1383.9L2004.5 1383.9L2006.9 1384.0L2009.4 1384.1L2011.9 1384.1L2014.4 1384.2L2016.8 1384.1L2019.3 1384.0L2021.8 1384.1L2024.2 1384.1L2026.7 1384.0L2029.2 1383.9L2031.6 1384.0L2034.1 1384.0L2036.6 1383.8L2039.1 1383.8L2041.5 1384.0L2044.0 1384.2L2046.5 1384.1L2048.9 1383.9L2051.4 1384.2L2053.9 1384.7L2056.3 1385.0L2058.8 1385.2L2061.3 1385.1L2063.8 1384.8L2066.2 1383.9L2068.7 1383.0L2071.2 1382.9L2073.6 1383.8L2076.1 1384.5L2078.6 1385.0L2081.0 1385.1L2083.5 1384.5L2086.0 1383.6L2088.5 1383.2L2090.9 1383.4L2093.4 1383.6L2095.9 1383.8L2098.3 1384.0L2100.8 1384.3L2103.3 1384.4L2105.7 1384.4L2108.2 1384.4L2110.7 1384.3L2113.2 1384.3L2115.6 1384.3L2117.5 1384.3" stroke="#F14040"/>
<path d="M209.0 1262.0L210.0 1262.0L211.0 1262.0L212.0 1262.0L213.0 1262.0L214.0 1262.1L215.0 1262.1L216.0 1262.1L217.0 1262.1L218.0 1262.1L219.0 1262.1L220.0 1262.1L221.0 1262.1L222.0 1262.1L223.0 1262.2L224.0 1262.2L225.0 1262.2L226.0 1262.2L227.0 1262.2L228.0 1262.2L229.0 1262.2L230.0 1262.2L231.0 1262.2L232.0 1262.3L233.0 1262.3L234.0 1262.3L235.0 1262.3L236.0 1262.3L237.0 1262.3L238.0 1262.3L239.0 1262.3L240.0 1262.3L241.0 1262.3L242.0 1262.3L243.0 1262.4L244.0 1262.4L245.0 1262.4L246.0 1262.4L247.0 1262.4L248.0 1262.4L249.0 1262.4L250.0 1262.4L251.0 1262.4L252.0 1262.4L253.0 1262.4L254.0 1262.4L255.0 1262.4L256.0 1262.4L257.0 1262.4L258.0 1262.5L259.0 1262.5L260.0 1262.5L261.0 1262.5L262.0 1262.5L263.0 1262.5L264.0 1262.5L265.0 1262.5L266.0 1262.5L267.0 1262.5L268.0 1262.5L269.0 1262.5L270.0 1262.5L271.0 1262.5L272.0 1262.5L273.0 1262.5L274.0 1262.5L275.0 1262.5L276.0 1262.5L277.0 1262.5L278.0 1262.5L279.0 1262.5L280.0 1262.5L281.0 1262.5L282.0 1262.5L283.0 1262.5L284.0 1262.5L285.0 1262.5L286.0 1262.5L287.0 1262.5L288.0 1262.5L289.0 1262.5L290.0 1262.5L291.0 1262.5L292.0 1262.5L293.0 1262.5L294.0 1262.5L295.0 1262.5L296.0 1262.5L297.0 1262.5L298.0 1262.5L299.0 1262.5L300.0 1262.5L301.0 1262.5L302.0 1262.5L303.0 1262.5L304.0 1262.5L305.0 1262.5L306.0 1262.5L307.0 1262.5L308.0 1262.5L309.0 1262.5L310.0 1262.5L311.0 1262.5L312.0 1262.5L313.0 1262.5L314.0 1262.5L315.0 1262.5L316.0 1262.5L317.0 1262.5L318.0 1262.5L319.0 1262.5L320.0 1262.5L321.0 1262.5L322.0 1262.5L323.0 1262.5L324.0 1262.5L325.0 1262.5L326.0 1262.5L327.0 1262.5L328.0 1262.5L329.0 1262.5L330.0 1262.5L331.0 1262.5L332.0 1262.5L333.0 1262.5L334.0 1262.5L335.0 1262.5L336.0 1262.3L337.0 1261.9L338.0 1261.3L339.0 1260.5L340.0 1259.8L341.0 1259.0L342.0 1258.1L343.0 1257.0L344.0 1255.7L345.0 1254.6L346.0 1253.6L347.0 1253.1L348.0 1253.0L349.0 1253.2L350.0 1253.4L351.0 1253.7L352.0 1254.0L353.0 1254.2L354.0 1254.4L355.0 1254.5L356.0 1254.4L357.0 1254.2L358.0 1254.0L359.0 1253.7L360.0 1253.4L361.0 1253.2L362.0 1253.0L363.0 1253.0L364.0 1253.1L365.0 1253.3L366.0 1253.5L367.0 1253.8L368.0 1254.2L369.0 1254.5L370.0 1255.0L371.0 1255.4L372.0 1255.8L373.0 1256.2L374.0 1256.8L375.0 1257.4L376.0 1258.1L377.0 1258.9L378.0 1259.7L379.0 1260.4L380.0 1261.1L381.0 1261.8L382.0 1262.3L383.0 1262.7L384.0 1263.1L385.0 1263.5L386.0 1263.9L387.0 1264.3L388.0 1264.6L389.0 1264.9L390.0 1265.2L391.0 1265.5L392.0 1265.7L393.0 1265.9L394.0 1266.0L395.0 1266.0L396.0 1266.0L397.0 1265.9L398.0 1265.7L399.0 1265.5L400.0 1265.3L401.0 1265.0L402.0 1264.7L403.0 1264.3L404.0 1263.9L405.0 1263.5L406.0 1263.1L407.0 1262.7L408.0 1262.3L409.0 1261.7L410.0 1261.1L411.0 1260.3L412.0 1259.5L413.0 1258.6L414.0 1257.7L415.0 1256.8L416.0 1255.9L417.0 1255.0L418.0 1254.1L419.0 1253.3L420.0 1252.5L421.0 1251.8L422.0 1251.0L423.0 1250.2L424.0 1249.5L425.0 1248.7L426.0 1248.0L427.0 1247.4L428.0 1246.8L429.0 1246.4L430.0 1246.0L431.0 1245.7L432.0 1245.4L433.0 1245.1L434.0 1244.9L435.0 1244.6L436.0 1244.4L437.0 1244.2L438.0 1244.1L439.0 1244.0L440.0 1244.0L441.0 1244.0L442.0 1244.1L443.0 1244.3L444.0 1244.5L445.0 1244.7L446.0 1244.9L447.0 1245.2L448.0 1245.5L449.0 1245.7L450.0 1246.0L451.0 1246.3L452.0 1246.6L453.0 1246.9L454.0 1247.3L455.0 1247.7L456.0 1248.1L457.0 1248.5L458.0 1249.0L459.0 1249.4L460.0 1249.9L461.0 1250.3L462.0 1250.8L463.0 1251.2L464.0 1251.7L465.0 1252.2L466.0 1252.7L467.0 1253.3L468.0 1253.8L469.0 1254.4L470.0 1254.9L471.0 1255.5L472.0 1256.0L473.0 1256.5L474.0 1257.0L475.0 1257.5L476.0 1258.0L477.0 1258.4L478.0 1258.9L479.0 1259.4L480.0 1259.9L481.0 1260.3L482.0 1260.7L483.0 1261.2L484.0 1261.5L485.0 1261.9L486.0 1262.2L487.0 1262.4L488.0 1262.6L489.0 1262.8L490.0 1263.0L491.0 1263.1L492.0 1263.3L493.0 1263.4L494.0 1263.6L495.0 1263.7L496.0 1263.8L497.0 1263.9L498.0 1263.9L499.0 1264.0L500.0 1264.0L501.0 1264.0L502.0 1264.0L503.0 1264.0L504.0 1264.0L505.0 1264.0L506.0 1264.0L507.0 1264.0L508.0 1264.0L509.0 1263.9L510.0 1263.9L511.0 1263.9L512.0 1263.9L513.0 1263.9L514.0 1263.9L515.0 1263.9L516.0 1263.8L517.0 1263.8L518.0 1263.8L519.0 1263.8L520.0 1263.8L522.5 1263.7L524.9 1263.5L527.4 1263.3L529.9 1263.0L532.4 1262.7L534.8 1262.4L537.3 1262.0L539.8 1261.6L542.2 1260.9L544.7 1260.1L547.2 1259.3L549.6 1258.3L552.1 1257.2L554.6 1256.1L557.1 1255.0L559.5 1253.8L562.0 1252.4L564.5 1251.0L566.9 1249.4L569.4 1247.8L571.9 1246.1L574.3 1244.3L576.8 1242.4L579.3 1240.5L581.8 1238.6L584.2 1236.6L586.7 1234.8L589.2 1233.0L591.6 1231.2L594.1 1229.4L596.6 1227.8L599.0 1226.6L601.5 1225.4L604.0 1224.2L606.5 1223.4L608.9 1222.5L611.4 1222.0L613.9 1222.0L616.3 1222.2L618.8 1222.8L621.3 1223.6L623.7 1224.5L626.2 1225.6L628.7 1226.9L631.2 1228.8L633.6 1231.1L636.1 1233.6L638.6 1236.2L641.0 1239.5L643.5 1243.4L646.0 1247.5L648.4 1251.8L650.9 1257.3L653.4 1260.9L655.9 1259.5L658.3 1254.9L660.8 1250.3L663.3 1246.5L665.7 1242.7L668.2 1239.4L670.7 1237.0L673.1 1235.2L675.6 1233.7L678.1 1232.4L680.6 1231.8L683.0 1231.2L685.5 1230.7L688.0 1230.4L690.4 1230.1L692.9 1229.9L695.4 1230.1L697.8 1230.5L700.3 1231.0L702.8 1231.7L705.3 1232.6L707.7 1233.5L710.2 1234.7L712.7 1235.8L715.1 1237.0L717.6 1238.2L720.1 1239.6L722.5 1241.1L725.0 1242.5L727.5 1243.8L730.0 1245.0L732.4 1246.0L734.9 1247.1L737.4 1248.1L739.8 1249.1L742.3 1250.1L744.8 1251.1L747.2 1251.9L749.7 1252.6L752.2 1253.4L754.7 1254.2L757.1 1255.1L759.6 1255.9L762.1 1256.7L764.5 1257.6L767.0 1258.5L769.5 1259.3L771.9 1260.3L774.4 1261.1L776.9 1261.8L779.4 1262.5L781.8 1263.0L784.3 1263.5L786.8 1263.8L789.2 1264.3L791.7 1264.7L794.2 1265.0L796.6 1265.3L799.1 1265.6L801.6 1265.6L804.1 1265.5L806.5 1265.6L809.0 1265.6L811.5 1265.5L813.9 1265.5L816.4 1265.5L818.9 1265.6L821.3 1265.6L823.8 1265.7L826.3 1265.7L828.8 1265.7L831.2 1265.7L833.7 1265.6L836.2 1265.6L838.6 1265.8L841.1 1265.9L843.6 1265.9L846.0 1265.7L848.5 1265.7L851.0 1265.9L853.5 1265.9L855.9 1265.8L858.4 1265.8L860.9 1265.8L863.3 1265.8L865.8 1265.9L868.3 1266.0L870.7 1266.0L873.2 1265.9L875.7 1265.9L878.2 1266.0L880.6 1265.9L883.1 1265.8L885.6 1265.7L888.0 1265.8L890.5 1265.9L893.0 1265.7L895.4 1265.6L897.9 1265.8L900.4 1265.9L902.9 1266.0L905.3 1266.0L907.8 1265.9L910.3 1265.8L912.7 1265.9L915.2 1266.0L917.7 1266.0L920.1 1266.0L922.6 1266.0L925.1 1265.9L927.6 1266.0L930.0 1266.2L932.5 1266.1L935.0 1266.1L937.4 1266.0L939.9 1266.0L942.4 1266.0L944.8 1265.8L947.3 1265.9L949.8 1266.1L952.3 1266.0L954.7 1266.0L957.2 1266.1L959.7 1266.0L962.1 1265.8L964.6 1265.8L967.1 1265.9L969.5 1266.0L972.0 1266.1L974.5 1266.0L977.0 1265.9L979.4 1266.2L981.9 1266.1L984.4 1265.9L986.8 1266.0L989.3 1266.1L991.8 1266.1L994.2 1265.9L996.7 1265.7L999.2 1265.9L1001.7 1266.0L1004.1 1265.8L1006.6 1266.0L1009.1 1266.2L1011.5 1266.1L1014.0 1265.9L1016.5 1266.0L1018.9 1265.9L1021.4 1265.7L1023.9 1265.8L1026.4 1265.8L1028.8 1265.8L1031.3 1265.7L1033.8 1265.7L1036.2 1265.9L1038.7 1266.1L1041.2 1265.9L1043.6 1265.5L1046.1 1265.5L1048.6 1265.6L1051.1 1265.6L1053.5 1265.8L1056.0 1266.0L1058.5 1266.2L1060.9 1266.0L1063.4 1266.2L1065.9 1266.4L1068.3 1266.0L1070.8 1265.4L1073.3 1265.4L1075.8 1265.6L1078.2 1265.3L1080.7 1265.4L1083.2 1265.6L1085.6 1265.5L1088.1 1265.6L1090.6 1265.8L1093.0 1265.7L1095.5 1265.5L1098.0 1265.4L1100.5 1265.2L1102.9 1265.4L1105.4 1265.6L1107.9 1265.3L1110.3 1264.5L1112.8 1264.8L1115.3 1264.9L1117.7 1265.1L1120.2 1266.1L1122.7 1265.9L1125.2 1264.9L1127.6 1264.5L1130.1 1265.2L1132.6 1265.7L1135.0 1265.7L1137.5 1265.8L1140.0 1265.6L1142.4 1265.1L1144.9 1264.5L1147.4 1263.6L1149.9 1263.5L1152.3 1264.5L1154.8 1265.0L1157.3 1265.3L1159.7 1265.3L1162.2 1265.3L1164.7 1265.4L1167.1 1265.0L1169.6 1264.6L1172.1 1264.4L1174.6 1264.9L1177.0 1265.4L1179.5 1265.5L1182.0 1265.9L1184.4 1266.0L1186.9 1265.5L1189.4 1265.3L1191.8 1264.8L1194.3 1264.8L1196.8 1265.0L1199.3 1264.5L1201.7 1264.9L1204.2 1265.1L1206.7 1265.1L1209.1 1265.1L1211.6 1265.4L1214.1 1265.8L1216.5 1265.1L1219.0 1264.2L1221.5 1264.5L1224.0 1265.2L1226.4 1265.2L1228.9 1264.8L1231.4 1264.9L1233.8 1264.1L1236.3 1263.9L1238.8 1264.3L1241.2 1264.8L1243.7 1265.0L1246.2 1264.7L1248.7 1264.8L1251.1 1264.7L1253.6 1265.0L1256.1 1265.2L1258.5 1265.2L1261.0 1265.4L1263.5 1265.9L1265.9 1266.1L1268.4 1266.2L1270.9 1266.3L1273.4 1266.0L1275.8 1266.1L1278.3 1266.5L1280.8 1266.5L1283.2 1266.2L1285.7 1266.1L1288.2 1266.6L1290.6 1267.4L1293.1 1266.9L1295.6 1266.5L1298.1 1266.5L1300.5 1266.8L1303.0 1267.0L1305.5 1267.0L1307.9 1265.8L1310.4 1265.4L1312.9 1265.8L1315.3 1266.1L1317.8 1266.2L1320.3 1266.2L1322.8 1266.8L1325.2 1267.4L1327.7 1266.2L1330.2 1265.7L1332.6 1266.5L1335.1 1266.7L1337.6 1266.4L1340.0 1265.9L1342.5 1265.9L1345.0 1266.6L1347.5 1267.3L1349.9 1267.1L1352.4 1266.5L1354.9 1266.4L1357.3 1266.6L1359.8 1266.9L1362.3 1266.9L1364.7 1266.6L1367.2 1266.5L1369.7 1266.4L1372.2 1266.8L1374.6 1267.4L1377.1 1266.8L1379.6 1266.6L1382.0 1266.6L1384.5 1267.0L1387.0 1267.6L1389.4 1267.3L1391.9 1267.3L1394.4 1267.1L1396.9 1267.1L1399.3 1268.5L1401.8 1269.7L1404.3 1269.2L1406.7 1267.9L1409.2 1266.2L1411.7 1265.5L1414.1 1265.1L1416.6 1263.7L1419.1 1261.9L1421.6 1260.3L1424.0 1258.0L1426.5 1258.0L1429.0 1260.4L1431.4 1263.0L1433.9 1265.1L1436.4 1265.6L1438.8 1266.0L1441.3 1266.4L1443.8 1266.1L1446.3 1266.1L1448.7 1265.8L1451.2 1265.8L1453.7 1266.3L1456.1 1266.0L1458.6 1264.9L1461.1 1263.6L1463.5 1262.0L1466.0 1261.0L1468.5 1262.2L1471.0 1263.9L1473.4 1264.5L1475.9 1264.6L1478.4 1264.9L1480.8 1265.5L1483.3 1265.8L1485.8 1266.7L1488.2 1266.8L1490.7 1266.3L1493.2 1266.8L1495.7 1267.7L1498.1 1268.0L1500.6 1267.4L1503.1 1267.0L1505.5 1267.1L1508.0 1267.2L1510.5 1267.1L1512.9 1266.4L1515.4 1265.8L1517.9 1266.0L1520.4 1266.0L1522.8 1266.3L1525.3 1266.3L1527.8 1264.7L1530.2 1263.4L1532.7 1263.2L1535.2 1264.5L1537.6 1266.3L1540.1 1266.6L1542.6 1266.1L1545.1 1266.8L1547.5 1267.6L1550.0 1267.8L1552.5 1268.1L1554.9 1268.1L1557.4 1268.2L1559.9 1267.9L1562.3 1267.7L1564.8 1267.6L1567.3 1267.3L1569.8 1267.8L1572.2 1268.2L1574.7 1267.4L1577.2 1266.9L1579.6 1267.7L1582.1 1268.4L1584.6 1268.1L1587.0 1267.6L1589.5 1267.5L1592.0 1268.5L1594.5 1269.0L1596.9 1268.7L1599.4 1268.6L1601.9 1268.6L1604.3 1268.5L1606.8 1268.1L1609.3 1268.1L1611.7 1268.2L1614.2 1268.4L1616.7 1268.0L1619.2 1267.5L1621.6 1268.0L1624.1 1268.5L1626.6 1268.3L1629.0 1267.6L1631.5 1267.5L1634.0 1267.6L1636.4 1268.4L1638.9 1268.8L1641.4 1268.7L1643.9 1268.3L1646.3 1267.8L1648.8 1268.1L1651.3 1268.7L1653.7 1268.5L1656.2 1268.0L1658.7 1268.0L1661.1 1267.9L1663.6 1267.8L1666.1 1267.5L1668.6 1267.2L1671.0 1267.5L1673.5 1267.9L1676.0 1268.2L1678.4 1268.0L1680.9 1267.5L1683.4 1267.2L1685.8 1266.7L1688.3 1266.7L1690.8 1267.2L1693.3 1267.3L1695.7 1267.6L1698.2 1268.0L1700.7 1267.8L1703.1 1267.8L1705.6 1267.8L1708.1 1267.8L1710.5 1267.6L1713.0 1267.6L1715.5 1267.4L1718.0 1267.4L1720.4 1267.4L1722.9 1267.4L1725.4 1267.5L1727.8 1267.5L1730.3 1267.4L1732.8 1267.5L1735.2 1267.5L1737.7 1267.3L1740.2 1267.3L1742.7 1267.4L1745.1 1267.4L1747.6 1267.3L1750.1 1267.3L1752.5 1267.4L1755.0 1267.4L1757.5 1267.3L1759.9 1267.4L1762.4 1267.4L1764.9 1267.3L1767.4 1267.2L1769.8 1267.1L1772.3 1267.1L1774.8 1267.2L1777.2 1267.3L1779.7 1267.3L1782.2 1267.3L1784.6 1267.2L1787.1 1267.1L1789.6 1267.1L1792.1 1267.2L1794.5 1267.3L1797.0 1267.2L1799.5 1267.2L1801.9 1267.2L1804.4 1267.2L1806.9 1267.2L1809.3 1267.2L1811.8 1267.2L1814.3 1267.3L1816.8 1267.3L1819.2 1267.2L1821.7 1267.1L1824.2 1267.2L1826.6 1267.0L1829.1 1266.9L1831.6 1266.9L1834.0 1267.1L1836.5 1267.2L1839.0 1267.1L1841.5 1267.0L1843.9 1267.0L1846.4 1267.1L1848.9 1267.0L1851.3 1266.9L1853.8 1266.8L1856.3 1267.0L1858.7 1267.1L1861.2 1267.1L1863.7 1267.0L1866.2 1266.9L1868.6 1266.9L1871.1 1266.9L1873.6 1267.0L1876.0 1267.0L1878.5 1267.0L1881.0 1266.9L1883.4 1267.0L1885.9 1267.1L1888.4 1266.9L1890.9 1266.7L1893.3 1266.8L1895.8 1267.0L1898.3 1267.1L1900.7 1267.0L1903.2 1266.9L1905.7 1266.9L1908.1 1267.0L1910.6 1267.0L1913.1 1266.9L1915.6 1266.9L1918.0 1266.9L1920.5 1266.9L1923.0 1266.9L1925.4 1267.0L1927.9 1267.0L1930.4 1267.0L1932.8 1267.1L1935.3 1267.0L1937.8 1267.0L1940.3 1267.1L1942.7 1267.0L1945.2 1267.1L1947.7 1267.1L1950.1 1267.1L1952.6 1267.0L1955.1 1266.9L1957.5 1267.1L1960.0 1267.3L1962.5 1267.2L1965.0 1267.1L1967.4 1267.0L1969.9 1266.9L1972.4 1266.9L1974.8 1267.1L1977.3 1266.9L1979.8 1266.8L1982.2 1266.8L1984.7 1266.9L1987.2 1267.0L1989.7 1267.0L1992.1 1266.9L1994.6 1267.1L1997.1 1267.1L1999.5 1266.9L2002.0 1266.8L2004.5 1266.7L2006.9 1266.9L2009.4 1267.0L2011.9 1267.1L2014.4 1267.1L2016.8 1267.0L2019.3 1266.9L2021.8 1267.0L2024.2 1267.1L2026.7 1267.0L2029.2 1266.9L2031.6 1266.9L2034.1 1266.9L2036.6 1266.8L2039.1 1266.8L2041.5 1267.0L2044.0 1267.2L2046.5 1267.1L2048.9 1266.9L2051.4 1267.2L2053.9 1268.0L2056.3 1268.4L2058.8 1268.6L2061.3 1268.5L2063.8 1268.1L2066.2 1267.1L2068.7 1266.0L2071.2 1265.9L2073.6 1266.9L2076.1 1267.8L2078.6 1268.4L2081.0 1268.6L2083.5 1267.8L2086.0 1266.6L2088.5 1265.8L2090.9 1265.8L2093.4 1265.5L2095.9 1264.9L2098.3 1264.6L2100.8 1264.8L2103.3 1265.7L2105.7 1266.8L2108.2 1267.7L2110.7 1267.7L2113.2 1267.6L2115.6 1267.2L2117.5 1266.7" stroke="#1A6FDF"/>
<path d="M209.0 1087.5L210.0 1087.5L211.0 1087.6L212.0 1087.6L213.0 1087.7L214.0 1087.7L215.0 1087.8L216.0 1087.9L217.0 1087.9L218.0 1088.0L219.0 1088.0L220.0 1088.1L221.0 1088.2L222.0 1088.2L223.0 1088.3L224.0 1088.4L225.0 1088.4L226.0 1088.5L227.0 1088.6L228.0 1088.6L229.0 1088.7L230.0 1088.8L231.0 1088.9L232.0 1088.9L233.0 1089.0L234.0 1089.1L235.0 1089.2L236.0 1089.3L237.0 1089.4L238.0 1089.4L239.0 1089.5L240.0 1089.6L241.0 1089.7L242.0 1089.8L243.0 1089.9L244.0 1090.0L245.0 1090.0L246.0 1090.1L247.0 1090.2L248.0 1090.3L249.0 1090.4L250.0 1090.5L251.0 1090.6L252.0 1090.7L253.0 1090.8L254.0 1090.9L255.0 1091.0L256.0 1091.1L257.0 1091.2L258.0 1091.3L259.0 1091.4L260.0 1091.5L261.0 1091.6L262.0 1091.7L263.0 1091.8L264.0 1091.9L265.0 1092.0L266.0 1092.1L267.0 1092.3L268.0 1092.4L269.0 1092.5L270.0 1092.6L271.0 1092.8L272.0 1092.9L273.0 1093.0L274.0 1093.2L275.0 1093.3L276.0 1093.5L277.0 1093.6L278.0 1093.8L279.0 1093.9L280.0 1094.1L281.0 1094.2L282.0 1094.4L283.0 1094.6L284.0 1094.8L285.0 1095.0L286.0 1095.2L287.0 1095.4L288.0 1095.6L289.0 1095.8L290.0 1096.0L291.0 1096.3L292.0 1096.5L293.0 1096.8L294.0 1097.0L295.0 1097.3L296.0 1097.6L297.0 1097.9L298.0 1098.2L299.0 1098.5L300.0 1098.8L301.0 1099.1L302.0 1099.4L303.0 1099.8L304.0 1100.1L305.0 1100.5L306.0 1100.9L307.0 1101.3L308.0 1101.8L309.0 1102.2L310.0 1102.8L311.0 1103.3L312.0 1103.8L313.0 1104.4L314.0 1105.0L315.0 1105.6L316.0 1106.2L317.0 1106.8L318.0 1107.3L319.0 1107.9L320.0 1108.5L321.0 1109.1L322.0 1109.7L323.0 1110.4L324.0 1111.1L325.0 1111.8L326.0 1112.4L327.0 1113.1L328.0 1113.6L329.0 1114.1L330.0 1114.5L331.0 1114.8L332.0 1115.2L333.0 1115.5L334.0 1115.8L335.0 1115.9L336.0 1116.0L337.0 1115.8L338.0 1115.3L339.0 1114.5L340.0 1113.4L341.0 1112.0L342.0 1110.4L343.0 1108.1L344.0 1102.8L345.0 1096.0L346.0 1089.5L347.0 1083.2L348.0 1076.6L349.0 1071.2L350.0 1068.2L351.0 1065.8L352.0 1064.2L353.0 1063.5L354.0 1064.0L355.0 1065.3L356.0 1067.0L357.0 1068.9L358.0 1070.7L359.0 1072.0L360.0 1072.8L361.0 1073.4L362.0 1073.9L363.0 1074.5L364.0 1075.3L365.0 1076.5L366.0 1079.0L367.0 1083.5L368.0 1089.5L369.0 1101.8L370.0 1114.5L371.0 1121.3L372.0 1126.7L373.0 1131.1L374.0 1134.5L375.0 1137.0L376.0 1138.7L377.0 1140.1L378.0 1141.6L379.0 1143.8L380.0 1147.0L381.0 1157.1L382.0 1173.3L383.0 1186.2L384.0 1193.1L385.0 1198.6L386.0 1204.7L387.0 1211.3L388.0 1217.5L389.0 1223.1L390.0 1228.4L391.0 1233.5L392.0 1238.7L393.0 1243.5L394.0 1248.4L395.0 1247.8L396.0 1244.5L397.0 1240.1L398.0 1235.5L399.0 1231.6L400.0 1228.5L401.0 1228.3L402.0 1229.9L403.0 1232.1L404.0 1233.8L405.0 1235.7L406.0 1237.5L407.0 1238.4L408.0 1238.0L409.0 1236.1L410.0 1233.5L411.0 1229.6L412.0 1223.9L413.0 1217.5L414.0 1209.9L415.0 1201.5L416.0 1193.8L417.0 1185.3L418.0 1174.9L419.0 1163.2L420.0 1151.5L421.0 1139.2L422.0 1126.3L423.0 1114.0L424.0 1103.9L425.0 1096.7L426.0 1090.9L427.0 1086.0L428.0 1081.4L429.0 1076.7L430.0 1071.5L431.0 1065.7L432.0 1059.7L433.0 1053.5L434.0 1047.3L435.0 1041.3L436.0 1035.2L437.0 1028.6L438.0 1022.2L439.0 1016.6L440.0 1012.5L441.0 1009.4L442.0 1006.5L443.0 1004.1L444.0 1002.5L445.0 1001.9L446.0 1002.3L447.0 1003.6L448.0 1005.3L449.0 1007.5L450.0 1009.8L451.0 1012.0L452.0 1014.4L453.0 1017.1L454.0 1020.1L455.0 1023.4L456.0 1026.6L457.0 1029.9L458.0 1033.1L459.0 1036.4L460.0 1039.7L461.0 1043.1L462.0 1046.5L463.0 1049.9L464.0 1053.3L465.0 1056.5L466.0 1059.7L467.0 1062.9L468.0 1066.0L469.0 1069.1L470.0 1072.1L471.0 1075.1L472.0 1078.1L473.0 1081.0L474.0 1084.0L475.0 1087.0L476.0 1090.1L477.0 1092.9L478.0 1095.5L479.0 1097.8L480.0 1099.5L481.0 1101.0L482.0 1102.4L483.0 1103.7L484.0 1104.9L485.0 1105.9L486.0 1106.6L487.0 1106.9L488.0 1107.0L489.0 1106.9L490.0 1106.8L491.0 1106.6L492.0 1106.4L493.0 1106.1L494.0 1105.9L495.0 1105.6L496.0 1105.3L497.0 1105.1L498.0 1104.8L499.0 1104.6L500.0 1104.5L501.0 1104.4L502.0 1104.3L503.0 1104.2L504.0 1104.1L505.0 1104.0L506.0 1103.9L507.0 1103.8L508.0 1103.7L509.0 1103.7L510.0 1103.6L511.0 1103.5L512.0 1103.5L513.0 1103.4L514.0 1103.3L515.0 1103.3L516.0 1103.2L517.0 1103.1L518.0 1103.1L519.0 1103.0L520.0 1102.9L522.5 1102.7L524.9 1102.5L527.4 1102.3L529.9 1102.0L532.4 1101.8L534.8 1101.6L537.3 1101.3L539.8 1101.1L542.2 1100.7L544.7 1100.4L547.2 1100.0L549.6 1099.6L552.1 1098.9L554.6 1098.1L557.1 1097.0L559.5 1095.9L562.0 1094.7L564.5 1093.4L566.9 1092.0L569.4 1090.6L571.9 1088.9L574.3 1087.3L576.8 1085.8L579.3 1084.0L581.8 1082.1L584.2 1079.9L586.7 1077.9L589.2 1076.2L591.6 1074.6L594.1 1072.7L596.6 1071.1L599.0 1070.1L601.5 1069.0L604.0 1068.1L606.5 1067.6L608.9 1067.1L611.4 1067.0L613.9 1067.2L616.3 1067.6L618.8 1068.2L621.3 1069.0L623.7 1070.0L626.2 1071.5L628.7 1073.4L631.2 1075.6L633.6 1078.3L636.1 1081.6L638.6 1085.2L641.0 1089.4L643.5 1093.9L646.0 1099.2L648.4 1104.5L650.9 1108.5L653.4 1111.4L655.9 1109.1L658.3 1102.7L660.8 1098.3L663.3 1095.1L665.7 1092.3L668.2 1090.0L670.7 1088.1L673.1 1086.7L675.6 1085.4L678.1 1084.3L680.6 1083.9L683.0 1083.3L685.5 1082.8L688.0 1082.7L690.4 1082.6L692.9 1082.5L695.4 1083.0L697.8 1083.4L700.3 1083.9L702.8 1084.7L705.3 1085.6L707.7 1086.5L710.2 1087.5L712.7 1088.5L715.1 1089.5L717.6 1090.3L720.1 1091.3L722.5 1092.4L725.0 1093.4L727.5 1094.4L730.0 1095.4L732.4 1096.7L734.9 1098.2L737.4 1099.8L739.8 1101.4L742.3 1103.0L744.8 1104.6L747.2 1105.9L749.7 1107.0L752.2 1108.2L754.7 1109.5L757.1 1110.8L759.6 1111.8L762.1 1112.8L764.5 1113.8L767.0 1114.7L769.5 1115.5L771.9 1116.3L774.4 1117.0L776.9 1117.5L779.4 1118.0L781.8 1118.5L784.3 1118.7L786.8 1118.9L789.2 1119.2L791.7 1119.5L794.2 1119.6L796.6 1120.1L799.1 1120.5L801.6 1120.8L804.1 1120.9L806.5 1121.2L809.0 1121.5L811.5 1121.6L813.9 1121.7L816.4 1122.0L818.9 1122.3L821.3 1122.6L823.8 1122.8L826.3 1123.1L828.8 1123.4L831.2 1123.5L833.7 1123.5L836.2 1123.8L838.6 1124.1L841.1 1124.5L843.6 1124.7L846.0 1124.6L848.5 1124.8L851.0 1125.3L853.5 1125.4L855.9 1125.5L858.4 1125.7L860.9 1125.9L863.3 1126.2L865.8 1126.4L868.3 1126.8L870.7 1127.0L873.2 1127.0L875.7 1127.2L878.2 1127.5L880.6 1127.6L883.1 1127.7L885.6 1127.7L888.0 1128.0L890.5 1128.3L893.0 1128.2L895.4 1128.3L897.9 1128.6L900.4 1129.1L902.9 1129.2L905.3 1129.4L907.8 1129.4L910.3 1129.4L912.7 1129.7L915.2 1130.0L917.7 1130.1L920.1 1130.3L922.6 1130.3L925.1 1130.4L927.6 1130.7L930.0 1131.0L932.5 1131.1L935.0 1131.2L937.4 1131.2L939.9 1131.2L942.4 1131.2L944.8 1131.1L947.3 1131.3L949.8 1131.6L952.3 1131.6L954.7 1131.7L957.2 1131.8L959.7 1131.7L962.1 1131.6L964.6 1131.6L967.1 1131.8L969.5 1132.1L972.0 1132.2L974.5 1132.1L977.0 1132.1L979.4 1132.5L981.9 1132.5L984.4 1132.3L986.8 1132.4L989.3 1132.6L991.8 1132.6L994.2 1132.3L996.7 1132.1L999.2 1132.4L1001.7 1132.5L1004.1 1132.2L1006.6 1132.4L1009.1 1132.7L1011.5 1132.5L1014.0 1132.2L1016.5 1132.1L1018.9 1131.9L1021.4 1131.6L1023.9 1131.6L1026.4 1131.5L1028.8 1131.4L1031.3 1131.3L1033.8 1131.2L1036.2 1131.4L1038.7 1131.6L1041.2 1131.3L1043.6 1130.6L1046.1 1130.6L1048.6 1130.6L1051.1 1130.6L1053.5 1130.9L1056.0 1131.2L1058.5 1131.4L1060.9 1131.1L1063.4 1131.4L1065.9 1131.7L1068.3 1131.1L1070.8 1130.2L1073.3 1130.2L1075.8 1130.5L1078.2 1130.1L1080.7 1130.2L1083.2 1130.4L1085.6 1130.4L1088.1 1130.6L1090.6 1130.8L1093.0 1130.7L1095.5 1130.5L1098.0 1130.3L1100.5 1130.0L1102.9 1130.3L1105.4 1130.7L1107.9 1130.3L1110.3 1129.2L1112.8 1129.7L1115.3 1129.9L1117.7 1130.3L1120.2 1131.8L1122.7 1131.7L1125.2 1130.3L1127.6 1129.8L1130.1 1131.0L1132.6 1131.8L1135.0 1131.9L1137.5 1132.3L1140.0 1132.0L1142.4 1131.5L1144.9 1130.8L1147.4 1129.5L1149.9 1129.5L1152.3 1131.0L1154.8 1132.0L1157.3 1132.5L1159.7 1132.6L1162.2 1132.8L1164.7 1133.2L1167.1 1132.8L1169.6 1132.4L1172.1 1132.3L1174.6 1133.2L1177.0 1134.0L1179.5 1134.3L1182.0 1135.1L1184.4 1135.5L1186.9 1134.9L1189.4 1134.6L1191.8 1134.0L1194.3 1134.1L1196.8 1134.5L1199.3 1133.8L1201.7 1134.3L1204.2 1134.4L1206.7 1133.8L1209.1 1133.3L1211.6 1133.2L1214.1 1133.3L1216.5 1131.8L1219.0 1130.3L1221.5 1130.7L1224.0 1132.0L1226.4 1132.3L1228.9 1132.2L1231.4 1132.8L1233.8 1132.3L1236.3 1132.4L1238.8 1133.4L1241.2 1134.6L1243.7 1135.3L1246.2 1135.3L1248.7 1135.9L1251.1 1136.3L1253.6 1137.1L1256.1 1137.9L1258.5 1138.5L1261.0 1139.2L1263.5 1140.6L1265.9 1141.5L1268.4 1142.1L1270.9 1142.6L1273.4 1142.3L1275.8 1142.4L1278.3 1141.7L1280.8 1140.3L1283.2 1140.0L1285.7 1147.2L1288.2 1153.1L1290.6 1156.1L1293.1 1156.6L1295.6 1156.9L1298.1 1158.2L1300.5 1160.3L1303.0 1163.4L1305.5 1166.7L1307.9 1168.4L1310.4 1170.7L1312.9 1174.2L1315.3 1177.4L1317.8 1179.7L1320.3 1180.9L1322.8 1182.5L1325.2 1183.6L1327.7 1181.4L1330.2 1179.7L1332.6 1179.6L1335.1 1178.5L1337.6 1176.5L1340.0 1173.6L1342.5 1171.1L1345.0 1169.8L1347.5 1168.4L1349.9 1166.1L1352.4 1163.6L1354.9 1162.0L1357.3 1160.7L1359.8 1159.7L1362.3 1158.5L1364.7 1156.9L1367.2 1155.8L1369.7 1154.8L1372.2 1154.6L1374.6 1154.7L1377.1 1153.1L1379.6 1151.8L1382.0 1150.8L1384.5 1150.0L1387.0 1149.3L1389.4 1147.5L1391.9 1146.4L1394.4 1145.3L1396.9 1144.2L1399.3 1143.7L1401.8 1143.7L1404.3 1143.7L1406.7 1143.7L1409.2 1143.4L1411.7 1143.6L1414.1 1143.8L1416.6 1142.6L1419.1 1141.1L1421.6 1143.5L1424.0 1149.6L1426.5 1149.2L1429.0 1145.2L1431.4 1142.5L1433.9 1142.1L1436.4 1140.2L1438.8 1139.1L1441.3 1138.8L1443.8 1137.8L1446.3 1137.5L1448.7 1136.8L1451.2 1136.4L1453.7 1136.9L1456.1 1136.2L1458.6 1134.5L1461.1 1132.9L1463.5 1132.0L1466.0 1131.7L1468.5 1132.8L1471.0 1132.9L1473.4 1131.5L1475.9 1130.5L1478.4 1130.2L1480.8 1130.4L1483.3 1130.3L1485.8 1131.0L1488.2 1130.8L1490.7 1129.7L1493.2 1130.1L1495.7 1131.1L1498.1 1131.5L1500.6 1130.5L1503.1 1130.1L1505.5 1130.6L1508.0 1131.1L1510.5 1131.4L1512.9 1131.1L1515.4 1131.0L1517.9 1132.0L1520.4 1132.8L1522.8 1134.3L1525.3 1135.4L1527.8 1135.5L1530.2 1136.4L1532.7 1137.8L1535.2 1139.3L1537.6 1141.3L1540.1 1142.0L1542.6 1142.6L1545.1 1145.2L1547.5 1147.7L1550.0 1149.6L1552.5 1151.7L1554.9 1153.7L1557.4 1156.0L1559.9 1157.4L1562.3 1158.5L1564.8 1158.9L1567.3 1158.4L1569.8 1158.7L1572.2 1158.7L1574.7 1156.8L1577.2 1155.7L1579.6 1156.6L1582.1 1157.8L1584.6 1157.9L1587.0 1158.1L1589.5 1158.7L1592.0 1160.9L1594.5 1162.0L1596.9 1161.4L1599.4 1160.7L1601.9 1160.0L1604.3 1158.9L1606.8 1157.7L1609.3 1157.3L1611.7 1157.9L1614.2 1159.7L1616.7 1161.1L1619.2 1162.3L1621.6 1164.2L1624.1 1166.4L1626.6 1167.3L1629.0 1167.4L1631.5 1168.1L1634.0 1168.7L1636.4 1169.9L1638.9 1170.4L1641.4 1169.9L1643.9 1169.0L1646.3 1167.8L1648.8 1167.8L1651.3 1168.0L1653.7 1166.5L1656.2 1164.2L1658.7 1162.4L1661.1 1160.2L1663.6 1158.2L1666.1 1156.2L1668.6 1154.1L1671.0 1153.1L1673.5 1152.1L1676.0 1151.1L1678.4 1149.2L1680.9 1147.0L1683.4 1145.0L1685.8 1142.8L1688.3 1141.2L1690.8 1140.3L1693.3 1139.0L1695.7 1137.8L1698.2 1136.5L1700.7 1134.4L1703.1 1132.2L1705.6 1129.6L1708.1 1126.9L1710.5 1124.2L1713.0 1122.0L1715.5 1120.2L1718.0 1119.0L1720.4 1117.9L1722.9 1116.9L1725.4 1116.2L1727.8 1115.4L1730.3 1114.4L1732.8 1113.6L1735.2 1112.7L1737.7 1111.7L1740.2 1110.8L1742.7 1110.2L1745.1 1109.5L1747.6 1108.8L1750.1 1108.1L1752.5 1107.6L1755.0 1107.1L1757.5 1106.7L1759.9 1106.6L1762.4 1106.8L1764.9 1107.1L1767.4 1107.7L1769.8 1108.3L1772.3 1109.2L1774.8 1110.6L1777.2 1112.8L1779.7 1115.2L1782.2 1117.4L1784.6 1119.2L1787.1 1120.6L1789.6 1122.2L1792.1 1123.7L1794.5 1125.1L1797.0 1126.1L1799.5 1126.9L1801.9 1127.5L1804.4 1128.1L1806.9 1128.7L1809.3 1129.1L1811.8 1129.4L1814.3 1129.7L1816.8 1129.7L1819.2 1129.4L1821.7 1129.1L1824.2 1128.9L1826.6 1128.3L1829.1 1127.7L1831.6 1127.4L1834.0 1127.2L1836.5 1126.9L1839.0 1126.1L1841.5 1125.3L1843.9 1124.6L1846.4 1124.1L1848.9 1123.4L1851.3 1122.8L1853.8 1122.4L1856.3 1122.2L1858.7 1122.1L1861.2 1121.8L1863.7 1121.5L1866.2 1121.0L1868.6 1120.7L1871.1 1120.5L1873.6 1120.2L1876.0 1119.8L1878.5 1119.3L1881.0 1118.7L1883.4 1118.3L1885.9 1117.7L1888.4 1116.5L1890.9 1114.6L1893.3 1112.6L1895.8 1110.6L1898.3 1108.5L1900.7 1106.5L1903.2 1104.7L1905.7 1103.1L1908.1 1101.7L1910.6 1100.3L1913.1 1099.1L1915.6 1098.2L1918.0 1097.3L1920.5 1096.5L1923.0 1095.9L1925.4 1095.7L1927.9 1095.5L1930.4 1095.4L1932.8 1095.4L1935.3 1095.1L1937.8 1095.0L1940.3 1095.1L1942.7 1094.9L1945.2 1094.9L1947.7 1094.8L1950.1 1094.7L1952.6 1094.4L1955.1 1094.0L1957.5 1093.9L1960.0 1093.9L1962.5 1093.6L1965.0 1093.3L1967.4 1092.9L1969.9 1092.5L1972.4 1092.4L1974.8 1092.6L1977.3 1092.5L1979.8 1092.7L1982.2 1093.2L1984.7 1093.8L1987.2 1094.5L1989.7 1094.8L1992.1 1095.3L1994.6 1096.0L1997.1 1096.4L1999.5 1096.3L2002.0 1096.1L2004.5 1096.0L2006.9 1095.9L2009.4 1095.8L2011.9 1095.5L2014.4 1095.2L2016.8 1094.6L2019.3 1094.1L2021.8 1093.8L2024.2 1093.5L2026.7 1093.0L2029.2 1092.5L2031.6 1092.2L2034.1 1091.8L2036.6 1091.2L2039.1 1090.8L2041.5 1090.7L2044.0 1090.7L2046.5 1090.2L2048.9 1089.5L2051.4 1089.5L2053.9 1089.4L2056.3 1088.8L2058.8 1088.1L2061.3 1087.8L2063.8 1088.2L2066.2 1088.0L2068.7 1087.3L2071.2 1086.9L2073.6 1087.0L2076.1 1086.5L2078.6 1085.7L2081.0 1084.9L2083.5 1083.8L2086.0 1082.4L2088.5 1081.5L2090.9 1080.9L2093.4 1079.3L2095.9 1077.2L2098.3 1075.7L2100.8 1075.3L2103.3 1075.1L2105.7 1074.7L2108.2 1074.4L2110.7 1074.1L2113.2 1074.4L2115.6 1074.9L2117.5 1075.4" stroke="#37AD6B"/>
<path d="M209.0 962.0L210.0 962.0L211.0 962.1L212.0 962.1L213.0 962.2L214.0 962.2L215.0 962.3L216.0 962.4L217.0 962.4L218.0 962.5L219.0 962.5L220.0 962.6L221.0 962.7L222.0 962.7L223.0 962.8L224.0 962.9L225.0 962.9L226.0 963.0L227.0 963.1L228.0 963.1L229.0 963.2L230.0 963.3L231.0 963.4L232.0 963.4L233.0 963.5L234.0 963.6L235.0 963.7L236.0 963.8L237.0 963.9L238.0 963.9L239.0 964.0L240.0 964.1L241.0 964.2L242.0 964.3L243.0 964.4L244.0 964.5L245.0 964.5L246.0 964.6L247.0 964.7L248.0 964.8L249.0 964.9L250.0 965.0L251.0 965.1L252.0 965.2L253.0 965.3L254.0 965.4L255.0 965.5L256.0 965.6L257.0 965.7L258.0 965.8L259.0 965.9L260.0 966.0L261.0 966.1L262.0 966.2L263.0 966.3L264.0 966.4L265.0 966.5L266.0 966.6L267.0 966.8L268.0 966.9L269.0 967.0L270.0 967.1L271.0 967.3L272.0 967.4L273.0 967.5L274.0 967.7L275.0 967.8L276.0 968.0L277.0 968.1L278.0 968.3L279.0 968.4L280.0 968.6L281.0 968.7L282.0 968.9L283.0 969.1L284.0 969.3L285.0 969.5L286.0 969.7L287.0 969.9L288.0 970.1L289.0 970.3L290.0 970.5L291.0 970.8L292.0 971.0L293.0 971.3L294.0 971.5L295.0 971.8L296.0 972.1L297.0 972.4L298.0 972.7L299.0 973.0L300.0 973.3L301.0 973.6L302.0 973.9L303.0 974.3L304.0 974.6L305.0 975.0L306.0 975.4L307.0 975.8L308.0 976.3L309.0 976.7L310.0 977.3L311.0 977.8L312.0 978.3L313.0 978.9L314.0 979.5L315.0 980.1L316.0 980.7L317.0 981.3L318.0 981.8L319.0 982.4L320.0 983.0L321.0 983.6L322.0 984.2L323.0 984.9L324.0 985.6L325.0 986.3L326.0 986.9L327.0 987.6L328.0 988.1L329.0 988.6L330.0 989.0L331.0 989.3L332.0 989.7L333.0 990.0L334.0 990.3L335.0 990.4L336.0 990.5L337.0 990.3L338.0 989.8L339.0 989.0L340.0 987.9L341.0 986.5L342.0 984.9L343.0 982.6L344.0 977.3L345.0 970.5L346.0 964.0L347.0 957.7L348.0 951.1L349.0 945.7L350.0 942.7L351.0 940.3L352.0 938.7L353.0 938.0L354.0 938.5L355.0 939.8L356.0 941.5L357.0 943.4L358.0 945.2L359.0 946.5L360.0 947.3L361.0 947.9L362.0 948.4L363.0 949.0L364.0 949.8L365.0 951.0L366.0 953.5L367.0 958.0L368.0 964.0L369.0 976.3L370.0 989.0L371.0 995.8L372.0 1001.2L373.0 1005.6L374.0 1009.0L375.0 1011.5L376.0 1013.2L377.0 1014.6L378.0 1016.1L379.0 1018.3L380.0 1021.5L381.0 1031.6L382.0 1047.8L383.0 1060.8L384.0 1067.6L385.0 1073.1L386.0 1079.2L387.0 1085.8L388.0 1092.0L389.0 1097.6L390.0 1102.9L391.0 1108.0L392.0 1113.2L393.0 1118.0L394.0 1122.9L395.0 1122.3L396.0 1119.0L397.0 1114.6L398.0 1110.0L399.0 1106.1L400.0 1103.0L401.0 1102.8L402.0 1104.4L403.0 1106.6L404.0 1108.3L405.0 1110.2L406.0 1112.0L407.0 1112.9L408.0 1112.5L409.0 1110.6L410.0 1108.0L411.0 1104.1L412.0 1098.4L413.0 1092.0L414.0 1084.4L415.0 1076.0L416.0 1068.3L417.0 1059.8L418.0 1049.4L419.0 1037.7L420.0 1026.0L421.0 1013.7L422.0 1000.8L423.0 988.5L424.0 978.4L425.0 971.2L426.0 965.4L427.0 960.5L428.0 955.9L429.0 951.2L430.0 946.0L431.0 940.2L432.0 934.2L433.0 928.0L434.0 921.8L435.0 915.8L436.0 909.7L437.0 903.1L438.0 896.7L439.0 891.1L440.0 887.0L441.0 883.9L442.0 881.0L443.0 878.6L444.0 877.0L445.0 876.4L446.0 876.8L447.0 878.1L448.0 879.8L449.0 882.0L450.0 884.3L451.0 886.5L452.0 888.9L453.0 891.6L454.0 894.6L455.0 897.9L456.0 901.1L457.0 904.4L458.0 907.6L459.0 910.9L460.0 914.2L461.0 917.6L462.0 921.0L463.0 924.4L464.0 927.8L465.0 931.0L466.0 934.2L467.0 937.4L468.0 940.5L469.0 943.6L470.0 946.6L471.0 949.6L472.0 952.6L473.0 955.5L474.0 958.5L475.0 961.5L476.0 964.6L477.0 967.4L478.0 970.0L479.0 972.3L480.0 974.0L481.0 975.5L482.0 976.9L483.0 978.2L484.0 979.4L485.0 980.4L486.0 981.1L487.0 981.4L488.0 981.5L489.0 981.4L490.0 981.3L491.0 981.1L492.0 980.9L493.0 980.6L494.0 980.4L495.0 980.1L496.0 979.8L497.0 979.6L498.0 979.3L499.0 979.1L500.0 979.0L501.0 978.9L502.0 978.8L503.0 978.7L504.0 978.6L505.0 978.5L506.0 978.4L507.0 978.3L508.0 978.2L509.0 978.2L510.0 978.1L511.0 978.0L512.0 978.0L513.0 977.9L514.0 977.8L515.0 977.8L516.0 977.7L517.0 977.6L518.0 977.6L519.0 977.5L520.0 977.4L522.5 977.2L524.9 977.0L527.4 976.8L529.9 976.5L532.4 976.3L534.8 976.1L537.3 975.8L539.8 975.6L542.2 975.2L544.7 974.9L547.2 974.5L549.6 974.1L552.1 973.4L554.6 972.6L557.1 971.5L559.5 970.4L562.0 969.2L564.5 967.9L566.9 966.5L569.4 965.1L571.9 963.4L574.3 961.8L576.8 960.3L579.3 958.5L581.8 956.6L584.2 954.4L586.7 952.4L589.2 950.7L591.6 949.1L594.1 947.2L596.6 945.6L599.0 944.6L601.5 943.5L604.0 942.6L606.5 942.1L608.9 941.6L611.4 941.5L613.9 941.7L616.3 942.1L618.8 942.7L621.3 943.5L623.7 944.5L626.2 946.0L628.7 947.9L631.2 950.1L633.6 952.8L636.1 956.1L638.6 959.7L641.0 963.9L643.5 968.4L646.0 973.7L648.4 979.0L650.9 983.0L653.4 985.9L655.9 983.6L658.3 977.2L660.8 972.8L663.3 969.6L665.7 966.8L668.2 964.5L670.7 962.6L673.1 961.2L675.6 959.9L678.1 958.8L680.6 958.4L683.0 957.8L685.5 957.3L688.0 957.2L690.4 957.1L692.9 957.0L695.4 957.5L697.8 957.9L700.3 958.4L702.8 959.2L705.3 960.1L707.7 961.0L710.2 962.0L712.7 963.0L715.1 964.0L717.6 964.8L720.1 965.8L722.5 966.9L725.0 967.9L727.5 968.9L730.0 969.9L732.4 971.2L734.9 972.7L737.4 974.3L739.8 975.9L742.3 977.5L744.8 979.1L747.2 980.4L749.7 981.5L752.2 982.7L754.7 984.0L757.1 985.3L759.6 986.3L762.1 987.3L764.5 988.3L767.0 989.2L769.5 990.0L771.9 990.8L774.4 991.5L776.9 992.0L779.4 992.5L781.8 993.0L784.3 993.2L786.8 993.4L789.2 993.7L791.7 994.0L794.2 994.1L796.6 994.6L799.1 995.0L801.6 995.3L804.1 995.4L806.5 995.7L809.0 996.0L811.5 996.1L813.9 996.2L816.4 996.5L818.9 996.8L821.3 997.1L823.8 997.3L826.3 997.6L828.8 997.9L831.2 998.0L833.7 998.0L836.2 998.3L838.6 998.6L841.1 999.0L843.6 999.2L846.0 999.1L848.5 999.3L851.0 999.8L853.5 999.9L855.9 1000.0L858.4 1000.2L860.9 1000.4L863.3 1000.7L865.8 1000.9L868.3 1001.3L870.7 1001.5L873.2 1001.5L875.7 1001.7L878.2 1002.0L880.6 1002.1L883.1 1002.2L885.6 1002.2L888.0 1002.5L890.5 1002.8L893.0 1002.7L895.4 1002.8L897.9 1003.1L900.4 1003.6L902.9 1003.7L905.3 1003.9L907.8 1003.9L910.3 1003.9L912.7 1004.2L915.2 1004.5L917.7 1004.6L920.1 1004.8L922.6 1004.8L925.1 1004.9L927.6 1005.2L930.0 1005.5L932.5 1005.6L935.0 1005.7L937.4 1005.7L939.9 1005.7L942.4 1005.7L944.8 1005.6L947.3 1005.8L949.8 1006.1L952.3 1006.1L954.7 1006.2L957.2 1006.3L959.7 1006.2L962.1 1006.1L964.6 1006.1L967.1 1006.3L969.5 1006.6L972.0 1006.7L974.5 1006.6L977.0 1006.6L979.4 1007.0L981.9 1007.0L984.4 1006.8L986.8 1006.9L989.3 1007.1L991.8 1007.1L994.2 1006.8L996.7 1006.6L999.2 1006.9L1001.7 1007.0L1004.1 1006.7L1006.6 1006.9L1009.1 1007.2L1011.5 1007.0L1014.0 1006.7L1016.5 1006.6L1018.9 1006.4L1021.4 1006.1L1023.9 1006.1L1026.4 1006.0L1028.8 1005.9L1031.3 1005.8L1033.8 1005.7L1036.2 1005.9L1038.7 1006.1L1041.2 1005.8L1043.6 1005.1L1046.1 1005.1L1048.6 1005.1L1051.1 1005.1L1053.5 1005.4L1056.0 1005.7L1058.5 1005.9L1060.9 1005.6L1063.4 1005.9L1065.9 1006.2L1068.3 1005.6L1070.8 1004.7L1073.3 1004.7L1075.8 1005.0L1078.2 1004.6L1080.7 1004.7L1083.2 1004.9L1085.6 1004.9L1088.1 1005.1L1090.6 1005.3L1093.0 1005.2L1095.5 1005.0L1098.0 1004.8L1100.5 1004.5L1102.9 1004.8L1105.4 1005.2L1107.9 1004.8L1110.3 1003.7L1112.8 1004.2L1115.3 1004.4L1117.7 1004.8L1120.2 1006.3L1122.7 1006.2L1125.2 1004.8L1127.6 1004.3L1130.1 1005.5L1132.6 1006.3L1135.0 1006.4L1137.5 1006.8L1140.0 1006.5L1142.4 1006.0L1144.9 1005.3L1147.4 1004.0L1149.9 1004.0L1152.3 1005.5L1154.8 1006.5L1157.3 1007.0L1159.7 1007.1L1162.2 1007.3L1164.7 1007.7L1167.1 1007.3L1169.6 1006.9L1172.1 1006.8L1174.6 1007.7L1177.0 1008.5L1179.5 1008.8L1182.0 1009.6L1184.4 1010.0L1186.9 1009.4L1189.4 1009.1L1191.8 1008.5L1194.3 1008.6L1196.8 1009.0L1199.3 1008.3L1201.7 1008.8L1204.2 1008.9L1206.7 1008.3L1209.1 1007.8L1211.6 1007.7L1214.1 1007.8L1216.5 1006.3L1219.0 1004.8L1221.5 1005.2L1224.0 1006.5L1226.4 1006.8L1228.9 1006.7L1231.4 1007.3L1233.8 1006.8L1236.3 1006.9L1238.8 1007.9L1241.2 1009.1L1243.7 1009.8L1246.2 1009.8L1248.7 1010.4L1251.1 1010.8L1253.6 1011.6L1256.1 1012.4L1258.5 1013.0L1261.0 1013.7L1263.5 1015.1L1265.9 1016.0L1268.4 1016.6L1270.9 1017.1L1273.4 1016.8L1275.8 1016.9L1278.3 1016.2L1280.8 1014.8L1283.2 1014.5L1285.7 1021.7L1288.2 1027.6L1290.6 1030.6L1293.1 1031.1L1295.6 1031.4L1298.1 1032.7L1300.5 1034.8L1303.0 1037.9L1305.5 1041.2L1307.9 1042.9L1310.4 1045.2L1312.9 1048.7L1315.3 1051.9L1317.8 1054.2L1320.3 1055.4L1322.8 1057.0L1325.2 1058.1L1327.7 1055.9L1330.2 1054.2L1332.6 1054.1L1335.1 1053.0L1337.6 1051.0L1340.0 1048.1L1342.5 1045.6L1345.0 1044.3L1347.5 1042.9L1349.9 1040.6L1352.4 1038.1L1354.9 1036.5L1357.3 1035.2L1359.8 1034.2L1362.3 1033.0L1364.7 1031.4L1367.2 1030.3L1369.7 1029.3L1372.2 1029.1L1374.6 1029.2L1377.1 1027.6L1379.6 1026.3L1382.0 1025.3L1384.5 1024.5L1387.0 1023.8L1389.4 1022.0L1391.9 1020.9L1394.4 1019.8L1396.9 1018.7L1399.3 1018.2L1401.8 1018.2L1404.3 1018.2L1406.7 1018.2L1409.2 1017.9L1411.7 1018.1L1414.1 1018.3L1416.6 1017.1L1419.1 1015.6L1421.6 1018.0L1424.0 1024.1L1426.5 1023.7L1429.0 1019.7L1431.4 1017.0L1433.9 1016.6L1436.4 1014.7L1438.8 1013.6L1441.3 1013.3L1443.8 1012.3L1446.3 1012.0L1448.7 1011.3L1451.2 1010.9L1453.7 1011.4L1456.1 1010.7L1458.6 1009.0L1461.1 1007.4L1463.5 1006.5L1466.0 1006.2L1468.5 1007.3L1471.0 1007.4L1473.4 1006.0L1475.9 1005.0L1478.4 1004.7L1480.8 1004.9L1483.3 1004.8L1485.8 1005.5L1488.2 1005.3L1490.7 1004.2L1493.2 1004.6L1495.7 1005.6L1498.1 1006.0L1500.6 1005.0L1503.1 1004.6L1505.5 1005.1L1508.0 1005.6L1510.5 1005.9L1512.9 1005.6L1515.4 1005.5L1517.9 1006.5L1520.4 1007.3L1522.8 1008.8L1525.3 1009.9L1527.8 1010.0L1530.2 1010.9L1532.7 1012.3L1535.2 1013.8L1537.6 1015.8L1540.1 1016.5L1542.6 1017.1L1545.1 1019.7L1547.5 1022.2L1550.0 1024.1L1552.5 1026.2L1554.9 1028.2L1557.4 1030.5L1559.9 1031.9L1562.3 1033.0L1564.8 1033.4L1567.3 1032.9L1569.8 1033.2L1572.2 1033.2L1574.7 1031.3L1577.2 1030.2L1579.6 1031.1L1582.1 1032.3L1584.6 1032.4L1587.0 1032.6L1589.5 1033.2L1592.0 1035.4L1594.5 1036.5L1596.9 1035.9L1599.4 1035.2L1601.9 1034.5L1604.3 1033.4L1606.8 1032.2L1609.3 1031.8L1611.7 1032.4L1614.2 1034.2L1616.7 1035.6L1619.2 1036.8L1621.6 1038.7L1624.1 1040.9L1626.6 1041.8L1629.0 1041.9L1631.5 1042.6L1634.0 1043.2L1636.4 1044.4L1638.9 1044.9L1641.4 1044.4L1643.9 1043.5L1646.3 1042.3L1648.8 1042.3L1651.3 1042.5L1653.7 1041.0L1656.2 1038.7L1658.7 1036.9L1661.1 1034.7L1663.6 1032.7L1666.1 1030.7L1668.6 1028.6L1671.0 1027.6L1673.5 1026.6L1676.0 1025.6L1678.4 1023.7L1680.9 1021.5L1683.4 1019.5L1685.8 1017.3L1688.3 1015.7L1690.8 1014.8L1693.3 1013.5L1695.7 1012.3L1698.2 1011.0L1700.7 1008.9L1703.1 1006.7L1705.6 1004.1L1708.1 1001.4L1710.5 998.7L1713.0 996.5L1715.5 994.7L1718.0 993.5L1720.4 992.4L1722.9 991.4L1725.4 990.7L1727.8 989.9L1730.3 988.9L1732.8 988.1L1735.2 987.2L1737.7 986.2L1740.2 985.3L1742.7 984.7L1745.1 984.0L1747.6 983.3L1750.1 982.6L1752.5 982.1L1755.0 981.6L1757.5 981.2L1759.9 981.1L1762.4 981.3L1764.9 981.6L1767.4 982.2L1769.8 982.8L1772.3 983.7L1774.8 985.1L1777.2 987.3L1779.7 989.7L1782.2 991.9L1784.6 993.7L1787.1 995.1L1789.6 996.7L1792.1 998.2L1794.5 999.6L1797.0 1000.6L1799.5 1001.4L1801.9 1002.0L1804.4 1002.6L1806.9 1003.2L1809.3 1003.6L1811.8 1003.9L1814.3 1004.2L1816.8 1004.2L1819.2 1003.9L1821.7 1003.6L1824.2 1003.4L1826.6 1002.8L1829.1 1002.2L1831.6 1001.9L1834.0 1001.7L1836.5 1001.4L1839.0 1000.6L1841.5 999.8L1843.9 999.1L1846.4 998.6L1848.9 997.9L1851.3 997.3L1853.8 996.9L1856.3 996.7L1858.7 996.6L1861.2 996.3L1863.7 996.0L1866.2 995.5L1868.6 995.2L1871.1 995.0L1873.6 994.7L1876.0 994.3L1878.5 993.8L1881.0 993.2L1883.4 992.8L1885.9 992.2L1888.4 991.0L1890.9 989.1L1893.3 987.1L1895.8 985.1L1898.3 983.0L1900.7 981.0L1903.2 979.2L1905.7 977.6L1908.1 976.2L1910.6 974.8L1913.1 973.6L1915.6 972.7L1918.0 971.8L1920.5 971.0L1923.0 970.4L1925.4 970.2L1927.9 970.0L1930.4 969.9L1932.8 969.9L1935.3 969.6L1937.8 969.5L1940.3 969.6L1942.7 969.4L1945.2 969.4L1947.7 969.3L1950.1 969.2L1952.6 968.9L1955.1 968.5L1957.5 968.4L1960.0 968.4L1962.5 968.1L1965.0 967.8L1967.4 967.4L1969.9 967.0L1972.4 966.9L1974.8 967.1L1977.3 967.0L1979.8 967.2L1982.2 967.7L1984.7 968.3L1987.2 969.0L1989.7 969.3L1992.1 969.8L1994.6 970.5L1997.1 970.9L1999.5 970.8L2002.0 970.6L2004.5 970.5L2006.9 970.4L2009.4 970.3L2011.9 970.0L2014.4 969.7L2016.8 969.1L2019.3 968.6L2021.8 968.3L2024.2 968.0L2026.7 967.5L2029.2 967.0L2031.6 966.7L2034.1 966.3L2036.6 965.7L2039.1 965.3L2041.5 965.2L2044.0 965.2L2046.5 964.7L2048.9 964.0L2051.4 964.0L2053.9 963.9L2056.3 963.3L2058.8 962.6L2061.3 962.3L2063.8 962.7L2066.2 962.5L2068.7 961.8L2071.2 961.4L2073.6 961.5L2076.1 961.0L2078.6 960.2L2081.0 959.4L2083.5 958.3L2086.0 956.9L2088.5 956.0L2090.9 955.4L2093.4 953.8L2095.9 951.7L2098.3 950.2L2100.8 949.8L2103.3 949.6L2105.7 949.2L2108.2 948.9L2110.7 948.6L2113.2 948.9L2115.6 949.4L2117.5 949.9" stroke="#B177DE"/>
<path d="M209.0 792.5L210.0 792.5L211.0 792.6L212.0 792.6L213.0 792.7L214.0 792.7L215.0 792.8L216.0 792.9L217.0 792.9L218.0 793.0L219.0 793.0L220.0 793.1L221.0 793.2L222.0 793.2L223.0 793.3L224.0 793.4L225.0 793.4L226.0 793.5L227.0 793.6L228.0 793.6L229.0 793.7L230.0 793.8L231.0 793.9L232.0 793.9L233.0 794.0L234.0 794.1L235.0 794.2L236.0 794.3L237.0 794.4L238.0 794.4L239.0 794.5L240.0 794.6L241.0 794.7L242.0 794.8L243.0 794.9L244.0 795.0L245.0 795.0L246.0 795.1L247.0 795.2L248.0 795.3L249.0 795.4L250.0 795.5L251.0 795.6L252.0 795.7L253.0 795.8L254.0 795.9L255.0 796.0L256.0 796.1L257.0 796.2L258.0 796.3L259.0 796.4L260.0 796.5L261.0 796.6L262.0 796.7L263.0 796.8L264.0 796.9L265.0 797.0L266.0 797.1L267.0 797.3L268.0 797.4L269.0 797.5L270.0 797.6L271.0 797.8L272.0 797.9L273.0 798.0L274.0 798.2L275.0 798.3L276.0 798.5L277.0 798.6L278.0 798.8L279.0 798.9L280.0 799.1L281.0 799.2L282.0 799.4L283.0 799.6L284.0 799.8L285.0 800.0L286.0 800.2L287.0 800.4L288.0 800.6L289.0 800.8L290.0 801.0L291.0 801.3L292.0 801.5L293.0 801.8L294.0 802.0L295.0 802.3L296.0 802.6L297.0 802.9L298.0 803.2L299.0 803.5L300.0 803.8L301.0 804.1L302.0 804.4L303.0 804.8L304.0 805.1L305.0 805.5L306.0 805.9L307.0 806.3L308.0 806.8L309.0 807.2L310.0 807.8L311.0 808.3L312.0 808.8L313.0 809.4L314.0 810.0L315.0 810.6L316.0 811.2L317.0 811.8L318.0 812.3L319.0 812.9L320.0 813.5L321.0 814.1L322.0 814.7L323.0 815.4L324.0 816.1L325.0 816.8L326.0 817.4L327.0 818.1L328.0 818.6L329.0 819.1L330.0 819.5L331.0 819.8L332.0 820.2L333.0 820.5L334.0 820.8L335.0 820.9L336.0 821.0L337.0 820.8L338.0 820.3L339.0 819.5L340.0 818.4L341.0 817.0L342.0 815.4L343.0 813.1L344.0 807.8L345.0 801.0L346.0 794.5L347.0 788.2L348.0 781.6L349.0 776.2L350.0 773.2L351.0 770.8L352.0 769.2L353.0 768.5L354.0 769.0L355.0 770.3L356.0 772.0L357.0 773.9L358.0 775.7L359.0 777.0L360.0 777.8L361.0 778.4L362.0 778.9L363.0 779.5L364.0 780.3L365.0 781.5L366.0 784.0L367.0 788.5L368.0 794.5L369.0 806.8L370.0 819.5L371.0 826.3L372.0 831.7L373.0 836.1L374.0 839.5L375.0 842.0L376.0 843.7L377.0 845.1L378.0 846.6L379.0 848.8L380.0 852.0L381.0 862.1L382.0 878.3L383.0 891.2L384.0 898.1L385.0 903.6L386.0 909.7L387.0 916.3L388.0 922.5L389.0 928.1L390.0 933.4L391.0 938.5L392.0 943.7L393.0 948.5L394.0 953.4L395.0 952.8L396.0 949.5L397.0 945.1L398.0 940.5L399.0 936.6L400.0 933.5L401.0 933.3L402.0 934.9L403.0 937.1L404.0 938.8L405.0 940.7L406.0 942.5L407.0 943.4L408.0 943.0L409.0 941.1L410.0 938.5L411.0 934.6L412.0 928.9L413.0 922.5L414.0 914.9L415.0 906.5L416.0 898.8L417.0 890.3L418.0 879.9L419.0 868.2L420.0 856.5L421.0 844.2L422.0 831.3L423.0 819.0L424.0 808.9L425.0 801.7L426.0 795.9L427.0 791.0L428.0 786.4L429.0 781.7L430.0 776.5L431.0 770.7L432.0 764.7L433.0 758.5L434.0 752.3L435.0 746.3L436.0 740.2L437.0 733.6L438.0 727.2L439.0 721.6L440.0 717.5L441.0 714.4L442.0 711.5L443.0 709.1L444.0 707.5L445.0 706.9L446.0 707.3L447.0 708.6L448.0 710.3L449.0 712.5L450.0 714.8L451.0 717.0L452.0 719.4L453.0 722.1L454.0 725.1L455.0 728.4L456.0 731.6L457.0 734.9L458.0 738.1L459.0 741.4L460.0 744.7L461.0 748.1L462.0 751.5L463.0 754.9L464.0 758.3L465.0 761.5L466.0 764.7L467.0 767.9L468.0 771.0L469.0 774.1L470.0 777.1L471.0 780.1L472.0 783.1L473.0 786.0L474.0 789.0L475.0 792.0L476.0 795.1L477.0 797.9L478.0 800.5L479.0 802.8L480.0 804.5L481.0 806.0L482.0 807.4L483.0 808.7L484.0 809.9L485.0 810.9L486.0 811.6L487.0 811.9L488.0 812.0L489.0 811.9L490.0 811.8L491.0 811.6L492.0 811.4L493.0 811.1L494.0 810.9L495.0 810.6L496.0 810.3L497.0 810.1L498.0 809.8L499.0 809.6L500.0 809.5L501.0 809.4L502.0 809.3L503.0 809.2L504.0 809.1L505.0 809.0L506.0 808.9L507.0 808.8L508.0 808.7L509.0 808.7L510.0 808.6L511.0 808.5L512.0 808.5L513.0 808.4L514.0 808.3L515.0 808.3L516.0 808.2L517.0 808.1L518.0 808.1L519.0 808.0L520.0 807.9L522.5 807.7L524.9 807.5L527.4 807.3L529.9 807.0L532.4 806.8L534.8 806.6L537.3 806.3L539.8 806.1L542.2 805.7L544.7 805.4L547.2 805.0L549.6 804.6L552.1 803.9L554.6 803.1L557.1 802.0L559.5 800.9L562.0 799.7L564.5 798.4L566.9 797.0L569.4 795.6L571.9 793.9L574.3 792.3L576.8 790.8L579.3 789.0L581.8 787.1L584.2 784.9L586.7 782.9L589.2 781.2L591.6 779.6L594.1 777.7L596.6 776.1L599.0 775.1L601.5 774.0L604.0 773.1L606.5 772.6L608.9 772.1L611.4 772.0L613.9 772.2L616.3 772.6L618.8 773.2L621.3 774.0L623.7 775.0L626.2 776.5L628.7 778.4L631.2 780.6L633.6 783.3L636.1 786.6L638.6 790.2L641.0 794.4L643.5 798.9L646.0 804.2L648.4 809.5L650.9 813.5L653.4 816.4L655.9 814.1L658.3 807.7L660.8 803.3L663.3 800.1L665.7 797.3L668.2 795.0L670.7 793.1L673.1 791.7L675.6 790.4L678.1 789.3L680.6 788.9L683.0 788.3L685.5 787.8L688.0 787.7L690.4 787.6L692.9 787.5L695.4 788.0L697.8 788.4L700.3 788.9L702.8 789.7L705.3 790.6L707.7 791.5L710.2 792.5L712.7 793.5L715.1 794.5L717.6 795.3L720.1 796.3L722.5 797.4L725.0 798.4L727.5 799.4L730.0 800.4L732.4 801.7L734.9 803.2L737.4 804.8L739.8 806.4L742.3 808.0L744.8 809.6L747.2 810.9L749.7 812.0L752.2 813.2L754.7 814.5L757.1 815.8L759.6 816.8L762.1 817.8L764.5 818.8L767.0 819.7L769.5 820.5L771.9 821.3L774.4 822.0L776.9 822.5L779.4 823.0L781.8 823.5L784.3 823.7L786.8 823.9L789.2 824.2L791.7 824.5L794.2 824.6L796.6 825.1L799.1 825.5L801.6 825.8L804.1 825.9L806.5 826.2L809.0 826.5L811.5 826.6L813.9 826.7L816.4 827.0L818.9 827.3L821.3 827.6L823.8 827.8L826.3 828.1L828.8 828.4L831.2 828.5L833.7 828.5L836.2 828.8L838.6 829.1L841.1 829.5L843.6 829.7L846.0 829.6L848.5 829.8L851.0 830.3L853.5 830.4L855.9 830.5L858.4 830.7L860.9 830.9L863.3 831.2L865.8 831.4L868.3 831.8L870.7 832.0L873.2 832.0L875.7 832.2L878.2 832.5L880.6 832.6L883.1 832.7L885.6 832.7L888.0 833.0L890.5 833.3L893.0 833.2L895.4 833.3L897.9 833.6L900.4 834.1L902.9 834.2L905.3 834.4L907.8 834.4L910.3 834.4L912.7 834.7L915.2 835.0L917.7 835.1L920.1 835.3L922.6 835.3L925.1 835.4L927.6 835.7L930.0 836.0L932.5 836.1L935.0 836.2L937.4 836.2L939.9 836.2L942.4 836.2L944.8 836.1L947.3 836.3L949.8 836.6L952.3 836.6L954.7 836.7L957.2 836.8L959.7 836.7L962.1 836.6L964.6 836.6L967.1 836.8L969.5 837.1L972.0 837.2L974.5 837.1L977.0 837.1L979.4 837.5L981.9 837.5L984.4 837.3L986.8 837.4L989.3 837.6L991.8 837.6L994.2 837.3L996.7 837.1L999.2 837.4L1001.7 837.5L1004.1 837.2L1006.6 837.4L1009.1 837.7L1011.5 837.5L1014.0 837.2L1016.5 837.1L1018.9 836.9L1021.4 836.6L1023.9 836.6L1026.4 836.5L1028.8 836.4L1031.3 836.3L1033.8 836.2L1036.2 836.4L1038.7 836.6L1041.2 836.3L1043.6 835.6L1046.1 835.6L1048.6 835.6L1051.1 835.6L1053.5 835.9L1056.0 836.2L1058.5 836.4L1060.9 836.1L1063.4 836.4L1065.9 836.7L1068.3 836.1L1070.8 835.2L1073.3 835.2L1075.8 835.5L1078.2 835.1L1080.7 835.2L1083.2 835.4L1085.6 835.4L1088.1 835.6L1090.6 835.8L1093.0 835.7L1095.5 835.5L1098.0 835.3L1100.5 835.0L1102.9 835.3L1105.4 835.7L1107.9 835.3L1110.3 834.2L1112.8 834.7L1115.3 834.9L1117.7 835.3L1120.2 836.8L1122.7 836.7L1125.2 835.3L1127.6 834.8L1130.1 836.0L1132.6 836.8L1135.0 836.9L1137.5 837.3L1140.0 837.0L1142.4 836.5L1144.9 835.8L1147.4 834.5L1149.9 834.5L1152.3 836.0L1154.8 837.0L1157.3 837.5L1159.7 837.6L1162.2 837.8L1164.7 838.2L1167.1 837.8L1169.6 837.4L1172.1 837.3L1174.6 838.2L1177.0 839.0L1179.5 839.3L1182.0 840.1L1184.4 840.5L1186.9 839.9L1189.4 839.6L1191.8 839.0L1194.3 839.1L1196.8 839.5L1199.3 838.8L1201.7 839.3L1204.2 839.4L1206.7 838.8L1209.1 838.3L1211.6 838.2L1214.1 838.3L1216.5 836.8L1219.0 835.3L1221.5 835.7L1224.0 837.0L1226.4 837.3L1228.9 837.2L1231.4 837.8L1233.8 837.3L1236.3 837.4L1238.8 838.4L1241.2 839.6L1243.7 840.3L1246.2 840.3L1248.7 840.9L1251.1 841.3L1253.6 842.1L1256.1 842.9L1258.5 843.5L1261.0 844.2L1263.5 845.6L1265.9 846.5L1268.4 847.1L1270.9 847.6L1273.4 847.3L1275.8 847.4L1278.3 846.7L1280.8 845.3L1283.2 845.0L1285.7 852.2L1288.2 858.1L1290.6 861.1L1293.1 861.6L1295.6 861.9L1298.1 863.2L1300.5 865.3L1303.0 868.4L1305.5 871.7L1307.9 873.4L1310.4 875.7L1312.9 879.2L1315.3 882.4L1317.8 884.7L1320.3 885.9L1322.8 887.5L1325.2 888.6L1327.7 886.4L1330.2 884.7L1332.6 884.6L1335.1 883.5L1337.6 881.5L1340.0 878.6L1342.5 876.1L1345.0 874.8L1347.5 873.4L1349.9 871.1L1352.4 868.6L1354.9 867.0L1357.3 865.7L1359.8 864.7L1362.3 863.5L1364.7 861.9L1367.2 860.8L1369.7 859.8L1372.2 859.6L1374.6 859.7L1377.1 858.1L1379.6 856.8L1382.0 855.8L1384.5 855.0L1387.0 854.3L1389.4 852.5L1391.9 851.4L1394.4 850.3L1396.9 849.2L1399.3 848.7L1401.8 848.7L1404.3 848.7L1406.7 848.7L1409.2 848.4L1411.7 848.6L1414.1 848.8L1416.6 847.6L1419.1 846.1L1421.6 848.5L1424.0 854.6L1426.5 854.2L1429.0 850.2L1431.4 847.5L1433.9 847.1L1436.4 845.2L1438.8 844.1L1441.3 843.8L1443.8 842.8L1446.3 842.5L1448.7 841.8L1451.2 841.4L1453.7 841.9L1456.1 841.2L1458.6 839.5L1461.1 837.9L1463.5 837.0L1466.0 836.7L1468.5 837.8L1471.0 837.9L1473.4 836.5L1475.9 835.5L1478.4 835.2L1480.8 835.4L1483.3 835.3L1485.8 836.0L1488.2 835.8L1490.7 834.7L1493.2 835.1L1495.7 836.1L1498.1 836.5L1500.6 835.5L1503.1 835.1L1505.5 835.6L1508.0 836.1L1510.5 836.4L1512.9 836.1L1515.4 836.0L1517.9 837.0L1520.4 837.8L1522.8 839.3L1525.3 840.4L1527.8 840.5L1530.2 841.4L1532.7 842.8L1535.2 844.3L1537.6 846.3L1540.1 847.0L1542.6 847.6L1545.1 850.2L1547.5 852.7L1550.0 854.6L1552.5 856.7L1554.9 858.7L1557.4 861.0L1559.9 862.4L1562.3 863.5L1564.8 863.9L1567.3 863.4L1569.8 863.7L1572.2 863.7L1574.7 861.8L1577.2 860.7L1579.6 861.6L1582.1 862.8L1584.6 862.9L1587.0 863.1L1589.5 863.7L1592.0 865.9L1594.5 867.0L1596.9 866.4L1599.4 865.7L1601.9 865.0L1604.3 863.9L1606.8 862.7L1609.3 862.3L1611.7 862.9L1614.2 864.7L1616.7 866.1L1619.2 867.3L1621.6 869.2L1624.1 871.4L1626.6 872.3L1629.0 872.4L1631.5 873.1L1634.0 873.7L1636.4 874.9L1638.9 875.4L1641.4 874.9L1643.9 874.0L1646.3 872.8L1648.8 872.8L1651.3 873.0L1653.7 871.5L1656.2 869.2L1658.7 867.4L1661.1 865.2L1663.6 863.2L1666.1 861.2L1668.6 859.1L1671.0 858.1L1673.5 857.1L1676.0 856.1L1678.4 854.2L1680.9 852.0L1683.4 850.0L1685.8 847.8L1688.3 846.2L1690.8 845.3L1693.3 844.0L1695.7 842.8L1698.2 841.5L1700.7 839.4L1703.1 837.2L1705.6 834.6L1708.1 831.9L1710.5 829.2L1713.0 827.0L1715.5 825.2L1718.0 824.0L1720.4 822.9L1722.9 821.9L1725.4 821.2L1727.8 820.4L1730.3 819.4L1732.8 818.6L1735.2 817.7L1737.7 816.7L1740.2 815.8L1742.7 815.2L1745.1 814.5L1747.6 813.8L1750.1 813.1L1752.5 812.6L1755.0 812.1L1757.5 811.7L1759.9 811.6L1762.4 811.8L1764.9 812.1L1767.4 812.7L1769.8 813.3L1772.3 814.2L1774.8 815.6L1777.2 817.8L1779.7 820.2L1782.2 822.4L1784.6 824.2L1787.1 825.6L1789.6 827.2L1792.1 828.7L1794.5 830.1L1797.0 831.1L1799.5 831.9L1801.9 832.5L1804.4 833.1L1806.9 833.7L1809.3 834.1L1811.8 834.4L1814.3 834.7L1816.8 834.7L1819.2 834.4L1821.7 834.1L1824.2 833.9L1826.6 833.3L1829.1 832.7L1831.6 832.4L1834.0 832.2L1836.5 831.9L1839.0 831.1L1841.5 830.3L1843.9 829.6L1846.4 829.1L1848.9 828.4L1851.3 827.8L1853.8 827.4L1856.3 827.2L1858.7 827.1L1861.2 826.8L1863.7 826.5L1866.2 826.0L1868.6 825.7L1871.1 825.5L1873.6 825.2L1876.0 824.8L1878.5 824.3L1881.0 823.7L1883.4 823.3L1885.9 822.7L1888.4 821.5L1890.9 819.6L1893.3 817.6L1895.8 815.6L1898.3 813.5L1900.7 811.5L1903.2 809.7L1905.7 808.1L1908.1 806.7L1910.6 805.3L1913.1 804.1L1915.6 803.2L1918.0 802.3L1920.5 801.5L1923.0 800.9L1925.4 800.7L1927.9 800.5L1930.4 800.4L1932.8 800.4L1935.3 800.1L1937.8 800.0L1940.3 800.1L1942.7 799.9L1945.2 799.9L1947.7 799.8L1950.1 799.7L1952.6 799.4L1955.1 799.0L1957.5 798.9L1960.0 798.9L1962.5 798.6L1965.0 798.3L1967.4 797.9L1969.9 797.5L1972.4 797.4L1974.8 797.6L1977.3 797.5L1979.8 797.7L1982.2 798.2L1984.7 798.8L1987.2 799.5L1989.7 799.8L1992.1 800.3L1994.6 801.0L1997.1 801.4L1999.5 801.3L2002.0 801.1L2004.5 801.0L2006.9 800.9L2009.4 800.8L2011.9 800.5L2014.4 800.2L2016.8 799.6L2019.3 799.1L2021.8 798.8L2024.2 798.5L2026.7 798.0L2029.2 797.5L2031.6 797.2L2034.1 796.8L2036.6 796.2L2039.1 795.8L2041.5 795.7L2044.0 795.7L2046.5 795.2L2048.9 794.5L2051.4 794.5L2053.9 794.4L2056.3 793.8L2058.8 793.1L2061.3 792.8L2063.8 793.2L2066.2 793.0L2068.7 792.3L2071.2 791.9L2073.6 792.0L2076.1 791.5L2078.6 790.7L2081.0 789.9L2083.5 788.8L2086.0 787.4L2088.5 786.5L2090.9 785.9L2093.4 784.3L2095.9 782.2L2098.3 780.7L2100.8 780.3L2103.3 780.1L2105.7 779.7L2108.2 779.4L2110.7 779.1L2113.2 779.4L2115.6 779.9L2117.5 780.4" stroke="#CC9900"/>
<path d="M209.0 655.5L210.0 655.5L211.0 655.6L212.0 655.6L213.0 655.7L214.0 655.7L215.0 655.8L216.0 655.9L217.0 655.9L218.0 656.0L219.0 656.0L220.0 656.1L221.0 656.2L222.0 656.2L223.0 656.3L224.0 656.4L225.0 656.4L226.0 656.5L227.0 656.6L228.0 656.6L229.0 656.7L230.0 656.8L231.0 656.9L232.0 656.9L233.0 657.0L234.0 657.1L235.0 657.2L236.0 657.3L237.0 657.4L238.0 657.4L239.0 657.5L240.0 657.6L241.0 657.7L242.0 657.8L243.0 657.9L244.0 658.0L245.0 658.0L246.0 658.1L247.0 658.2L248.0 658.3L249.0 658.4L250.0 658.5L251.0 658.6L252.0 658.7L253.0 658.8L254.0 658.9L255.0 659.0L256.0 659.1L257.0 659.2L258.0 659.3L259.0 659.4L260.0 659.5L261.0 659.6L262.0 659.7L263.0 659.8L264.0 659.9L265.0 660.0L266.0 660.1L267.0 660.3L268.0 660.4L269.0 660.5L270.0 660.6L271.0 660.8L272.0 660.9L273.0 661.0L274.0 661.2L275.0 661.3L276.0 661.5L277.0 661.6L278.0 661.8L279.0 661.9L280.0 662.1L281.0 662.2L282.0 662.4L283.0 662.6L284.0 662.8L285.0 663.0L286.0 663.2L287.0 663.4L288.0 663.6L289.0 663.8L290.0 664.0L291.0 664.3L292.0 664.5L293.0 664.8L294.0 665.0L295.0 665.3L296.0 665.6L297.0 665.9L298.0 666.2L299.0 666.5L300.0 666.8L301.0 667.1L302.0 667.4L303.0 667.8L304.0 668.1L305.0 668.5L306.0 668.9L307.0 669.3L308.0 669.8L309.0 670.2L310.0 670.8L311.0 671.3L312.0 671.8L313.0 672.4L314.0 673.0L315.0 673.6L316.0 674.2L317.0 674.8L318.0 675.3L319.0 675.9L320.0 676.5L321.0 677.1L322.0 677.7L323.0 678.4L324.0 679.1L325.0 679.8L326.0 680.4L327.0 681.1L328.0 681.6L329.0 682.1L330.0 682.5L331.0 682.8L332.0 683.2L333.0 683.5L334.0 683.8L335.0 683.9L336.0 684.0L337.0 683.8L338.0 683.3L339.0 682.5L340.0 681.4L341.0 680.0L342.0 678.4L343.0 676.1L344.0 670.8L345.0 664.0L346.0 657.5L347.0 651.2L348.0 644.6L349.0 639.2L350.0 636.2L351.0 633.8L352.0 632.2L353.0 631.5L354.0 632.0L355.0 633.3L356.0 635.0L357.0 636.9L358.0 638.7L359.0 640.0L360.0 640.8L361.0 641.4L362.0 641.9L363.0 642.5L364.0 643.3L365.0 644.5L366.0 647.0L367.0 651.5L368.0 657.5L369.0 669.8L370.0 682.5L371.0 689.3L372.0 694.7L373.0 699.1L374.0 702.5L375.0 705.0L376.0 706.7L377.0 708.1L378.0 709.6L379.0 711.8L380.0 715.0L381.0 725.1L382.0 741.3L383.0 754.2L384.0 761.1L385.0 766.6L386.0 772.7L387.0 779.3L388.0 785.5L389.0 791.1L390.0 796.4L391.0 801.5L392.0 806.7L393.0 811.5L394.0 816.4L395.0 815.8L396.0 812.5L397.0 808.1L398.0 803.5L399.0 799.6L400.0 796.5L401.0 796.3L402.0 797.9L403.0 800.1L404.0 801.8L405.0 803.7L406.0 805.5L407.0 806.4L408.0 806.0L409.0 804.1L410.0 801.5L411.0 797.6L412.0 791.9L413.0 785.5L414.0 777.9L415.0 769.5L416.0 761.8L417.0 753.3L418.0 742.9L419.0 731.2L420.0 719.5L421.0 707.2L422.0 694.3L423.0 682.0L424.0 671.9L425.0 664.7L426.0 658.9L427.0 654.0L428.0 649.4L429.0 644.7L430.0 639.5L431.0 633.7L432.0 627.7L433.0 621.5L434.0 615.3L435.0 609.3L436.0 603.2L437.0 596.6L438.0 590.2L439.0 584.6L440.0 580.5L441.0 577.4L442.0 574.5L443.0 572.1L444.0 570.5L445.0 569.9L446.0 570.3L447.0 571.6L448.0 573.3L449.0 575.5L450.0 577.8L451.0 580.0L452.0 582.4L453.0 585.1L454.0 588.1L455.0 591.4L456.0 594.6L457.0 597.9L458.0 601.1L459.0 604.4L460.0 607.7L461.0 611.1L462.0 614.5L463.0 617.9L464.0 621.3L465.0 624.5L466.0 627.7L467.0 630.9L468.0 634.0L469.0 637.1L470.0 640.1L471.0 643.1L472.0 646.1L473.0 649.0L474.0 652.0L475.0 655.0L476.0 658.1L477.0 660.9L478.0 663.5L479.0 665.8L480.0 667.5L481.0 669.0L482.0 670.4L483.0 671.7L484.0 672.9L485.0 673.9L486.0 674.6L487.0 674.9L488.0 675.0L489.0 674.9L490.0 674.8L491.0 674.6L492.0 674.4L493.0 674.1L494.0 673.9L495.0 673.6L496.0 673.3L497.0 673.1L498.0 672.8L499.0 672.6L500.0 672.5L501.0 672.4L502.0 672.3L503.0 672.2L504.0 672.1L505.0 672.0L506.0 671.9L507.0 671.8L508.0 671.7L509.0 671.7L510.0 671.6L511.0 671.5L512.0 671.5L513.0 671.4L514.0 671.3L515.0 671.3L516.0 671.2L517.0 671.1L518.0 671.1L519.0 671.0L520.0 670.9L522.5 670.7L524.9 670.5L527.4 670.3L529.9 670.0L532.4 669.8L534.8 669.6L537.3 669.3L539.8 669.1L542.2 668.7L544.7 668.4L547.2 668.0L549.6 667.6L552.1 666.9L554.6 666.1L557.1 665.0L559.5 663.9L562.0 662.7L564.5 661.4L566.9 660.0L569.4 658.6L571.9 656.9L574.3 655.3L576.8 653.8L579.3 652.0L581.8 650.1L584.2 647.9L586.7 645.9L589.2 644.2L591.6 642.6L594.1 640.7L596.6 639.1L599.0 638.1L601.5 637.0L604.0 636.1L606.5 635.6L608.9 635.1L611.4 635.0L613.9 635.2L616.3 635.6L618.8 636.2L621.3 637.0L623.7 638.0L626.2 639.5L628.7 641.4L631.2 643.6L633.6 646.3L636.1 649.6L638.6 653.2L641.0 657.4L643.5 661.9L646.0 667.2L648.4 672.5L650.9 676.5L653.4 679.4L655.9 677.1L658.3 670.7L660.8 666.3L663.3 663.1L665.7 660.3L668.2 658.0L670.7 656.1L673.1 654.7L675.6 653.4L678.1 652.3L680.6 651.9L683.0 651.3L685.5 650.8L688.0 650.7L690.4 650.6L692.9 650.5L695.4 651.0L697.8 651.4L700.3 651.9L702.8 652.7L705.3 653.6L707.7 654.5L710.2 655.5L712.7 656.5L715.1 657.5L717.6 658.3L720.1 659.3L722.5 660.4L725.0 661.4L727.5 662.4L730.0 663.4L732.4 664.7L734.9 666.2L737.4 667.8L739.8 669.4L742.3 671.0L744.8 672.6L747.2 673.9L749.7 675.0L752.2 676.2L754.7 677.5L757.1 678.8L759.6 679.8L762.1 680.8L764.5 681.8L767.0 682.7L769.5 683.5L771.9 684.3L774.4 685.0L776.9 685.5L779.4 686.0L781.8 686.5L784.3 686.7L786.8 686.9L789.2 687.2L791.7 687.5L794.2 687.6L796.6 688.1L799.1 688.5L801.6 688.8L804.1 688.9L806.5 689.2L809.0 689.5L811.5 689.6L813.9 689.7L816.4 690.0L818.9 690.3L821.3 690.6L823.8 690.8L826.3 691.1L828.8 691.4L831.2 691.5L833.7 691.5L836.2 691.8L838.6 692.1L841.1 692.5L843.6 692.7L846.0 692.6L848.5 692.8L851.0 693.3L853.5 693.4L855.9 693.5L858.4 693.7L860.9 693.9L863.3 694.2L865.8 694.4L868.3 694.8L870.7 695.0L873.2 695.0L875.7 695.2L878.2 695.5L880.6 695.6L883.1 695.7L885.6 695.7L888.0 696.0L890.5 696.3L893.0 696.2L895.4 696.3L897.9 696.6L900.4 697.1L902.9 697.2L905.3 697.4L907.8 697.4L910.3 697.4L912.7 697.7L915.2 698.0L917.7 698.1L920.1 698.3L922.6 698.3L925.1 698.4L927.6 698.7L930.0 699.0L932.5 699.1L935.0 699.2L937.4 699.2L939.9 699.2L942.4 699.2L944.8 699.1L947.3 699.3L949.8 699.6L952.3 699.6L954.7 699.7L957.2 699.8L959.7 699.7L962.1 699.6L964.6 699.6L967.1 699.8L969.5 700.1L972.0 700.2L974.5 700.1L977.0 700.1L979.4 700.5L981.9 700.5L984.4 700.3L986.8 700.4L989.3 700.6L991.8 700.6L994.2 700.3L996.7 700.1L999.2 700.4L1001.7 700.5L1004.1 700.2L1006.6 700.4L1009.1 700.7L1011.5 700.5L1014.0 700.2L1016.5 700.1L1018.9 699.9L1021.4 699.6L1023.9 699.6L1026.4 699.5L1028.8 699.4L1031.3 699.3L1033.8 699.2L1036.2 699.4L1038.7 699.6L1041.2 699.3L1043.6 698.6L1046.1 698.6L1048.6 698.6L1051.1 698.6L1053.5 698.9L1056.0 699.2L1058.5 699.4L1060.9 699.1L1063.4 699.4L1065.9 699.7L1068.3 699.1L1070.8 698.2L1073.3 698.2L1075.8 698.5L1078.2 698.1L1080.7 698.2L1083.2 698.4L1085.6 698.4L1088.1 698.6L1090.6 698.8L1093.0 698.7L1095.5 698.5L1098.0 698.3L1100.5 698.0L1102.9 698.3L1105.4 698.7L1107.9 698.3L1110.3 697.2L1112.8 697.7L1115.3 697.9L1117.7 698.3L1120.2 699.8L1122.7 699.7L1125.2 698.3L1127.6 697.8L1130.1 699.0L1132.6 699.8L1135.0 699.9L1137.5 700.3L1140.0 700.0L1142.4 699.5L1144.9 698.8L1147.4 697.5L1149.9 697.5L1152.3 699.0L1154.8 700.0L1157.3 700.5L1159.7 700.6L1162.2 700.8L1164.7 701.2L1167.1 700.8L1169.6 700.4L1172.1 700.3L1174.6 701.2L1177.0 702.0L1179.5 702.3L1182.0 703.1L1184.4 703.5L1186.9 702.9L1189.4 702.6L1191.8 702.0L1194.3 702.1L1196.8 702.5L1199.3 701.8L1201.7 702.3L1204.2 702.4L1206.7 701.8L1209.1 701.3L1211.6 701.2L1214.1 701.3L1216.5 699.8L1219.0 698.3L1221.5 698.7L1224.0 700.0L1226.4 700.3L1228.9 700.2L1231.4 700.8L1233.8 700.3L1236.3 700.4L1238.8 701.4L1241.2 702.6L1243.7 703.3L1246.2 703.3L1248.7 703.9L1251.1 704.3L1253.6 705.1L1256.1 705.9L1258.5 706.5L1261.0 707.2L1263.5 708.6L1265.9 709.5L1268.4 710.1L1270.9 710.6L1273.4 710.3L1275.8 710.4L1278.3 709.7L1280.8 708.3L1283.2 708.0L1285.7 715.2L1288.2 721.1L1290.6 724.1L1293.1 724.6L1295.6 724.9L1298.1 726.2L1300.5 728.3L1303.0 731.4L1305.5 734.7L1307.9 736.4L1310.4 738.7L1312.9 742.2L1315.3 745.4L1317.8 747.7L1320.3 748.9L1322.8 750.5L1325.2 751.6L1327.7 749.4L1330.2 747.7L1332.6 747.6L1335.1 746.5L1337.6 744.5L1340.0 741.6L1342.5 739.1L1345.0 737.8L1347.5 736.4L1349.9 734.1L1352.4 731.6L1354.9 730.0L1357.3 728.7L1359.8 727.7L1362.3 726.5L1364.7 724.9L1367.2 723.8L1369.7 722.8L1372.2 722.6L1374.6 722.7L1377.1 721.1L1379.6 719.8L1382.0 718.8L1384.5 718.0L1387.0 717.3L1389.4 715.5L1391.9 714.4L1394.4 713.3L1396.9 712.2L1399.3 711.7L1401.8 711.7L1404.3 711.7L1406.7 711.7L1409.2 711.4L1411.7 711.6L1414.1 711.8L1416.6 710.6L1419.1 709.1L1421.6 711.5L1424.0 717.6L1426.5 717.2L1429.0 713.2L1431.4 710.5L1433.9 710.1L1436.4 708.2L1438.8 707.1L1441.3 706.8L1443.8 705.8L1446.3 705.5L1448.7 704.8L1451.2 704.4L1453.7 704.9L1456.1 704.2L1458.6 702.5L1461.1 700.9L1463.5 700.0L1466.0 699.7L1468.5 700.8L1471.0 700.9L1473.4 699.5L1475.9 698.5L1478.4 698.2L1480.8 698.4L1483.3 698.3L1485.8 699.0L1488.2 698.8L1490.7 697.7L1493.2 698.1L1495.7 699.1L1498.1 699.5L1500.6 698.5L1503.1 698.1L1505.5 698.6L1508.0 699.1L1510.5 699.4L1512.9 699.1L1515.4 699.0L1517.9 700.0L1520.4 700.8L1522.8 702.3L1525.3 703.4L1527.8 703.5L1530.2 704.4L1532.7 705.8L1535.2 707.3L1537.6 709.3L1540.1 710.0L1542.6 710.6L1545.1 713.2L1547.5 715.7L1550.0 717.6L1552.5 719.7L1554.9 721.7L1557.4 724.0L1559.9 725.4L1562.3 726.5L1564.8 726.9L1567.3 726.4L1569.8 726.7L1572.2 726.7L1574.7 724.8L1577.2 723.7L1579.6 724.6L1582.1 725.8L1584.6 725.9L1587.0 726.1L1589.5 726.7L1592.0 728.9L1594.5 730.0L1596.9 729.4L1599.4 728.7L1601.9 728.0L1604.3 726.9L1606.8 725.7L1609.3 725.3L1611.7 725.9L1614.2 727.7L1616.7 729.1L1619.2 730.3L1621.6 732.2L1624.1 734.4L1626.6 735.3L1629.0 735.4L1631.5 736.1L1634.0 736.7L1636.4 737.9L1638.9 738.4L1641.4 737.9L1643.9 737.0L1646.3 735.8L1648.8 735.8L1651.3 736.0L1653.7 734.5L1656.2 732.2L1658.7 730.4L1661.1 728.2L1663.6 726.2L1666.1 724.2L1668.6 722.1L1671.0 721.1L1673.5 720.1L1676.0 719.1L1678.4 717.2L1680.9 715.0L1683.4 713.0L1685.8 710.8L1688.3 709.2L1690.8 708.3L1693.3 707.0L1695.7 705.8L1698.2 704.5L1700.7 702.4L1703.1 700.2L1705.6 697.6L1708.1 694.9L1710.5 692.2L1713.0 690.0L1715.5 688.2L1718.0 687.0L1720.4 685.9L1722.9 684.9L1725.4 684.2L1727.8 683.4L1730.3 682.4L1732.8 681.6L1735.2 680.7L1737.7 679.7L1740.2 678.8L1742.7 678.2L1745.1 677.5L1747.6 676.8L1750.1 676.1L1752.5 675.6L1755.0 675.1L1757.5 674.7L1759.9 674.6L1762.4 674.8L1764.9 675.1L1767.4 675.7L1769.8 676.3L1772.3 677.2L1774.8 678.6L1777.2 680.8L1779.7 683.2L1782.2 685.4L1784.6 687.2L1787.1 688.6L1789.6 690.2L1792.1 691.7L1794.5 693.1L1797.0 694.1L1799.5 694.9L1801.9 695.5L1804.4 696.1L1806.9 696.7L1809.3 697.1L1811.8 697.4L1814.3 697.7L1816.8 697.7L1819.2 697.4L1821.7 697.1L1824.2 696.9L1826.6 696.3L1829.1 695.7L1831.6 695.4L1834.0 695.2L1836.5 694.9L1839.0 694.1L1841.5 693.3L1843.9 692.6L1846.4 692.1L1848.9 691.4L1851.3 690.8L1853.8 690.4L1856.3 690.2L1858.7 690.1L1861.2 689.8L1863.7 689.5L1866.2 689.0L1868.6 688.7L1871.1 688.5L1873.6 688.2L1876.0 687.8L1878.5 687.3L1881.0 686.7L1883.4 686.3L1885.9 685.7L1888.4 684.5L1890.9 682.6L1893.3 680.6L1895.8 678.6L1898.3 676.5L1900.7 674.5L1903.2 672.7L1905.7 671.1L1908.1 669.7L1910.6 668.3L1913.1 667.1L1915.6 666.2L1918.0 665.3L1920.5 664.5L1923.0 663.9L1925.4 663.7L1927.9 663.5L1930.4 663.4L1932.8 663.4L1935.3 663.1L1937.8 663.0L1940.3 663.1L1942.7 662.9L1945.2 662.9L1947.7 662.8L1950.1 662.7L1952.6 662.4L1955.1 662.0L1957.5 661.9L1960.0 661.9L1962.5 661.6L1965.0 661.3L1967.4 660.9L1969.9 660.5L1972.4 660.4L1974.8 660.6L1977.3 660.5L1979.8 660.7L1982.2 661.2L1984.7 661.8L1987.2 662.5L1989.7 662.8L1992.1 663.3L1994.6 664.0L1997.1 664.4L1999.5 664.3L2002.0 664.1L2004.5 664.0L2006.9 663.9L2009.4 663.8L2011.9 663.5L2014.4 663.2L2016.8 662.6L2019.3 662.1L2021.8 661.8L2024.2 661.5L2026.7 661.0L2029.2 660.5L2031.6 660.2L2034.1 659.8L2036.6 659.2L2039.1 658.8L2041.5 658.7L2044.0 658.7L2046.5 658.2L2048.9 657.5L2051.4 657.5L2053.9 657.4L2056.3 656.8L2058.8 656.1L2061.3 655.8L2063.8 656.2L2066.2 656.0L2068.7 655.3L2071.2 654.9L2073.6 655.0L2076.1 654.5L2078.6 653.7L2081.0 652.9L2083.5 651.8L2086.0 650.4L2088.5 649.5L2090.9 648.9L2093.4 647.3L2095.9 645.2L2098.3 643.7L2100.8 643.3L2103.3 643.1L2105.7 642.7L2108.2 642.4L2110.7 642.1L2113.2 642.4L2115.6 642.9L2117.5 643.4" stroke="#00CBCC"/>
<path d="M209.0 478.0L210.0 478.0L211.0 478.1L212.0 478.1L213.0 478.2L214.0 478.2L215.0 478.3L216.0 478.4L217.0 478.4L218.0 478.5L219.0 478.5L220.0 478.6L221.0 478.7L222.0 478.7L223.0 478.8L224.0 478.9L225.0 478.9L226.0 479.0L227.0 479.1L228.0 479.1L229.0 479.2L230.0 479.3L231.0 479.4L232.0 479.4L233.0 479.5L234.0 479.6L235.0 479.7L236.0 479.8L237.0 479.9L238.0 479.9L239.0 480.0L240.0 480.1L241.0 480.2L242.0 480.3L243.0 480.4L244.0 480.5L245.0 480.5L246.0 480.6L247.0 480.7L248.0 480.8L249.0 480.9L250.0 481.0L251.0 481.1L252.0 481.2L253.0 481.3L254.0 481.4L255.0 481.5L256.0 481.6L257.0 481.7L258.0 481.8L259.0 481.9L260.0 482.0L261.0 482.1L262.0 482.2L263.0 482.3L264.0 482.4L265.0 482.5L266.0 482.6L267.0 482.8L268.0 482.9L269.0 483.0L270.0 483.1L271.0 483.3L272.0 483.4L273.0 483.5L274.0 483.7L275.0 483.8L276.0 484.0L277.0 484.1L278.0 484.3L279.0 484.4L280.0 484.6L281.0 484.7L282.0 484.9L283.0 485.1L284.0 485.3L285.0 485.5L286.0 485.7L287.0 485.9L288.0 486.1L289.0 486.3L290.0 486.5L291.0 486.8L292.0 487.0L293.0 487.3L294.0 487.5L295.0 487.8L296.0 488.1L297.0 488.4L298.0 488.7L299.0 489.0L300.0 489.3L301.0 489.6L302.0 489.9L303.0 490.3L304.0 490.6L305.0 491.0L306.0 491.4L307.0 491.8L308.0 492.3L309.0 492.7L310.0 493.3L311.0 493.8L312.0 494.3L313.0 494.9L314.0 495.5L315.0 496.1L316.0 496.7L317.0 497.3L318.0 497.8L319.0 498.4L320.0 499.0L321.0 499.6L322.0 500.2L323.0 500.9L324.0 501.6L325.0 502.3L326.0 502.9L327.0 503.6L328.0 504.1L329.0 504.6L330.0 505.0L331.0 505.3L332.0 505.7L333.0 506.0L334.0 506.3L335.0 506.4L336.0 506.5L337.0 506.3L338.0 505.8L339.0 505.0L340.0 503.9L341.0 502.5L342.0 500.9L343.0 498.6L344.0 493.3L345.0 486.5L346.0 480.0L347.0 473.7L348.0 467.1L349.0 461.7L350.0 458.7L351.0 456.3L352.0 454.7L353.0 454.0L354.0 454.5L355.0 455.8L356.0 457.5L357.0 459.4L358.0 461.2L359.0 462.5L360.0 463.3L361.0 463.9L362.0 464.4L363.0 465.0L364.0 465.8L365.0 467.0L366.0 469.5L367.0 474.0L368.0 480.0L369.0 492.3L370.0 505.0L371.0 511.8L372.0 517.2L373.0 521.6L374.0 525.0L375.0 527.5L376.0 529.2L377.0 530.6L378.0 532.1L379.0 534.3L380.0 537.5L381.0 547.6L382.0 563.8L383.0 576.8L384.0 583.6L385.0 589.1L386.0 595.2L387.0 601.8L388.0 608.0L389.0 613.6L390.0 618.9L391.0 624.0L392.0 629.2L393.0 634.0L394.0 638.9L395.0 638.3L396.0 635.0L397.0 630.6L398.0 626.0L399.0 622.1L400.0 619.0L401.0 618.8L402.0 620.4L403.0 622.6L404.0 624.3L405.0 626.2L406.0 628.0L407.0 628.9L408.0 628.5L409.0 626.6L410.0 624.0L411.0 620.1L412.0 614.4L413.0 608.0L414.0 600.4L415.0 592.0L416.0 584.3L417.0 575.8L418.0 565.4L419.0 553.7L420.0 542.0L421.0 529.7L422.0 516.8L423.0 504.5L424.0 494.4L425.0 487.2L426.0 481.4L427.0 476.5L428.0 471.9L429.0 467.2L430.0 462.0L431.0 456.2L432.0 450.2L433.0 444.0L434.0 437.8L435.0 431.8L436.0 425.7L437.0 419.1L438.0 412.7L439.0 407.1L440.0 403.0L441.0 399.9L442.0 397.0L443.0 394.6L444.0 393.0L445.0 392.4L446.0 392.8L447.0 394.1L448.0 395.8L449.0 398.0L450.0 400.3L451.0 402.5L452.0 404.9L453.0 407.6L454.0 410.6L455.0 413.9L456.0 417.1L457.0 420.4L458.0 423.6L459.0 426.9L460.0 430.2L461.0 433.6L462.0 437.0L463.0 440.4L464.0 443.8L465.0 447.0L466.0 450.2L467.0 453.4L468.0 456.5L469.0 459.6L470.0 462.6L471.0 465.6L472.0 468.6L473.0 471.5L474.0 474.5L475.0 477.5L476.0 480.6L477.0 483.4L478.0 486.0L479.0 488.3L480.0 490.0L481.0 491.5L482.0 492.9L483.0 494.2L484.0 495.4L485.0 496.4L486.0 497.1L487.0 497.4L488.0 497.5L489.0 497.4L490.0 497.3L491.0 497.1L492.0 496.9L493.0 496.6L494.0 496.4L495.0 496.1L496.0 495.8L497.0 495.6L498.0 495.3L499.0 495.1L500.0 495.0L501.0 494.9L502.0 494.8L503.0 494.7L504.0 494.6L505.0 494.5L506.0 494.4L507.0 494.3L508.0 494.2L509.0 494.2L510.0 494.1L511.0 494.0L512.0 494.0L513.0 493.9L514.0 493.8L515.0 493.8L516.0 493.7L517.0 493.6L518.0 493.6L519.0 493.5L520.0 493.4L522.5 493.2L524.9 493.0L527.4 492.8L529.9 492.5L532.4 492.3L534.8 492.1L537.3 491.8L539.8 491.6L542.2 491.2L544.7 490.9L547.2 490.5L549.6 490.1L552.1 489.4L554.6 488.6L557.1 487.5L559.5 486.4L562.0 485.2L564.5 483.9L566.9 482.5L569.4 481.1L571.9 479.4L574.3 477.8L576.8 476.3L579.3 474.5L581.8 472.6L584.2 470.4L586.7 468.4L589.2 466.7L591.6 465.1L594.1 463.2L596.6 461.6L599.0 460.6L601.5 459.5L604.0 458.6L606.5 458.1L608.9 457.6L611.4 457.5L613.9 457.7L616.3 458.1L618.8 458.7L621.3 459.5L623.7 460.5L626.2 462.0L628.7 463.9L631.2 466.1L633.6 468.8L636.1 472.1L638.6 475.7L641.0 479.9L643.5 484.4L646.0 489.7L648.4 495.0L650.9 499.0L653.4 501.9L655.9 499.6L658.3 493.2L660.8 488.8L663.3 485.6L665.7 482.8L668.2 480.5L670.7 478.6L673.1 477.2L675.6 475.9L678.1 474.8L680.6 474.4L683.0 473.8L685.5 473.3L688.0 473.2L690.4 473.1L692.9 473.0L695.4 473.5L697.8 473.9L700.3 474.4L702.8 475.2L705.3 476.1L707.7 477.0L710.2 478.0L712.7 479.0L715.1 480.0L717.6 480.8L720.1 481.8L722.5 482.9L725.0 483.9L727.5 484.9L730.0 485.9L732.4 487.2L734.9 488.7L737.4 490.3L739.8 491.9L742.3 493.5L744.8 495.1L747.2 496.4L749.7 497.5L752.2 498.7L754.7 500.0L757.1 501.3L759.6 502.3L762.1 503.3L764.5 504.3L767.0 505.2L769.5 506.0L771.9 506.8L774.4 507.5L776.9 508.0L779.4 508.5L781.8 509.0L784.3 509.2L786.8 509.4L789.2 509.7L791.7 510.0L794.2 510.1L796.6 510.6L799.1 511.0L801.6 511.3L804.1 511.4L806.5 511.7L809.0 512.0L811.5 512.1L813.9 512.2L816.4 512.5L818.9 512.8L821.3 513.1L823.8 513.3L826.3 513.6L828.8 513.9L831.2 514.0L833.7 514.0L836.2 514.3L838.6 514.6L841.1 515.0L843.6 515.2L846.0 515.1L848.5 515.3L851.0 515.8L853.5 515.9L855.9 516.0L858.4 516.2L860.9 516.4L863.3 516.7L865.8 516.9L868.3 517.3L870.7 517.5L873.2 517.5L875.7 517.7L878.2 518.0L880.6 518.1L883.1 518.2L885.6 518.2L888.0 518.5L890.5 518.8L893.0 518.7L895.4 518.8L897.9 519.1L900.4 519.6L902.9 519.7L905.3 519.9L907.8 519.9L910.3 519.9L912.7 520.2L915.2 520.5L917.7 520.6L920.1 520.8L922.6 520.8L925.1 520.9L927.6 521.2L930.0 521.5L932.5 521.6L935.0 521.7L937.4 521.7L939.9 521.7L942.4 521.7L944.8 521.6L947.3 521.8L949.8 522.1L952.3 522.1L954.7 522.2L957.2 522.3L959.7 522.2L962.1 522.1L964.6 522.1L967.1 522.3L969.5 522.6L972.0 522.7L974.5 522.6L977.0 522.6L979.4 523.0L981.9 523.0L984.4 522.8L986.8 522.9L989.3 523.1L991.8 523.1L994.2 522.8L996.7 522.6L999.2 522.9L1001.7 523.0L1004.1 522.7L1006.6 522.9L1009.1 523.2L1011.5 523.0L1014.0 522.7L1016.5 522.6L1018.9 522.4L1021.4 522.1L1023.9 522.1L1026.4 522.0L1028.8 521.9L1031.3 521.8L1033.8 521.7L1036.2 521.9L1038.7 522.1L1041.2 521.8L1043.6 521.1L1046.1 521.1L1048.6 521.1L1051.1 521.1L1053.5 521.4L1056.0 521.7L1058.5 521.9L1060.9 521.6L1063.4 521.9L1065.9 522.2L1068.3 521.6L1070.8 520.7L1073.3 520.7L1075.8 521.0L1078.2 520.6L1080.7 520.7L1083.2 520.9L1085.6 520.9L1088.1 521.1L1090.6 521.3L1093.0 521.2L1095.5 521.0L1098.0 520.8L1100.5 520.5L1102.9 520.8L1105.4 521.2L1107.9 520.8L1110.3 519.7L1112.8 520.2L1115.3 520.4L1117.7 520.8L1120.2 522.3L1122.7 522.2L1125.2 520.8L1127.6 520.3L1130.1 521.5L1132.6 522.3L1135.0 522.4L1137.5 522.8L1140.0 522.5L1142.4 522.0L1144.9 521.3L1147.4 520.0L1149.9 520.0L1152.3 521.5L1154.8 522.5L1157.3 523.0L1159.7 523.1L1162.2 523.3L1164.7 523.7L1167.1 523.3L1169.6 522.9L1172.1 522.8L1174.6 523.7L1177.0 524.5L1179.5 524.8L1182.0 525.6L1184.4 526.0L1186.9 525.4L1189.4 525.1L1191.8 524.5L1194.3 524.6L1196.8 525.0L1199.3 524.3L1201.7 524.8L1204.2 524.9L1206.7 524.3L1209.1 523.8L1211.6 523.7L1214.1 523.8L1216.5 522.3L1219.0 520.8L1221.5 521.2L1224.0 522.5L1226.4 522.8L1228.9 522.7L1231.4 523.3L1233.8 522.8L1236.3 522.9L1238.8 523.9L1241.2 525.1L1243.7 525.8L1246.2 525.8L1248.7 526.4L1251.1 526.8L1253.6 527.6L1256.1 528.4L1258.5 529.0L1261.0 529.7L1263.5 531.1L1265.9 532.0L1268.4 532.6L1270.9 533.1L1273.4 532.8L1275.8 532.9L1278.3 532.2L1280.8 530.8L1283.2 530.5L1285.7 537.7L1288.2 543.6L1290.6 546.6L1293.1 547.1L1295.6 547.4L1298.1 548.7L1300.5 550.8L1303.0 553.9L1305.5 557.2L1307.9 558.9L1310.4 561.2L1312.9 564.7L1315.3 567.9L1317.8 570.2L1320.3 571.4L1322.8 573.0L1325.2 574.1L1327.7 571.9L1330.2 570.2L1332.6 570.1L1335.1 569.0L1337.6 567.0L1340.0 564.1L1342.5 561.6L1345.0 560.3L1347.5 558.9L1349.9 556.6L1352.4 554.1L1354.9 552.5L1357.3 551.2L1359.8 550.2L1362.3 549.0L1364.7 547.4L1367.2 546.3L1369.7 545.3L1372.2 545.1L1374.6 545.2L1377.1 543.6L1379.6 542.3L1382.0 541.3L1384.5 540.5L1387.0 539.8L1389.4 538.0L1391.9 536.9L1394.4 535.8L1396.9 534.7L1399.3 534.2L1401.8 534.2L1404.3 534.2L1406.7 534.2L1409.2 533.9L1411.7 534.1L1414.1 534.3L1416.6 533.1L1419.1 531.6L1421.6 534.0L1424.0 540.1L1426.5 539.7L1429.0 535.7L1431.4 533.0L1433.9 532.6L1436.4 530.7L1438.8 529.6L1441.3 529.3L1443.8 528.3L1446.3 528.0L1448.7 527.3L1451.2 526.9L1453.7 527.4L1456.1 526.7L1458.6 525.0L1461.1 523.4L1463.5 522.5L1466.0 522.2L1468.5 523.3L1471.0 523.4L1473.4 522.0L1475.9 521.0L1478.4 520.7L1480.8 520.9L1483.3 520.8L1485.8 521.5L1488.2 521.3L1490.7 520.2L1493.2 520.6L1495.7 521.6L1498.1 522.0L1500.6 521.0L1503.1 520.6L1505.5 521.1L1508.0 521.6L1510.5 521.9L1512.9 521.6L1515.4 521.5L1517.9 522.5L1520.4 523.3L1522.8 524.8L1525.3 525.9L1527.8 526.0L1530.2 526.9L1532.7 528.3L1535.2 529.8L1537.6 531.8L1540.1 532.5L1542.6 533.1L1545.1 535.7L1547.5 538.2L1550.0 540.1L1552.5 542.2L1554.9 544.2L1557.4 546.5L1559.9 547.9L1562.3 549.0L1564.8 549.4L1567.3 548.9L1569.8 549.2L1572.2 549.2L1574.7 547.3L1577.2 546.2L1579.6 547.1L1582.1 548.3L1584.6 548.4L1587.0 548.6L1589.5 549.2L1592.0 551.4L1594.5 552.5L1596.9 551.9L1599.4 551.2L1601.9 550.5L1604.3 549.4L1606.8 548.2L1609.3 547.8L1611.7 548.4L1614.2 550.2L1616.7 551.6L1619.2 552.8L1621.6 554.7L1624.1 556.9L1626.6 557.8L1629.0 557.9L1631.5 558.6L1634.0 559.2L1636.4 560.4L1638.9 560.9L1641.4 560.4L1643.9 559.5L1646.3 558.3L1648.8 558.3L1651.3 558.5L1653.7 557.0L1656.2 554.7L1658.7 552.9L1661.1 550.7L1663.6 548.7L1666.1 546.7L1668.6 544.6L1671.0 543.6L1673.5 542.6L1676.0 541.6L1678.4 539.7L1680.9 537.5L1683.4 535.5L1685.8 533.3L1688.3 531.7L1690.8 530.8L1693.3 529.5L1695.7 528.3L1698.2 527.0L1700.7 524.9L1703.1 522.7L1705.6 520.1L1708.1 517.4L1710.5 514.7L1713.0 512.5L1715.5 510.7L1718.0 509.5L1720.4 508.4L1722.9 507.4L1725.4 506.7L1727.8 505.9L1730.3 504.9L1732.8 504.1L1735.2 503.2L1737.7 502.2L1740.2 501.3L1742.7 500.7L1745.1 500.0L1747.6 499.3L1750.1 498.6L1752.5 498.1L1755.0 497.6L1757.5 497.2L1759.9 497.1L1762.4 497.3L1764.9 497.6L1767.4 498.2L1769.8 498.8L1772.3 499.7L1774.8 501.1L1777.2 503.3L1779.7 505.7L1782.2 507.9L1784.6 509.7L1787.1 511.1L1789.6 512.7L1792.1 514.2L1794.5 515.6L1797.0 516.6L1799.5 517.4L1801.9 518.0L1804.4 518.6L1806.9 519.2L1809.3 519.6L1811.8 519.9L1814.3 520.2L1816.8 520.2L1819.2 519.9L1821.7 519.6L1824.2 519.4L1826.6 518.8L1829.1 518.2L1831.6 517.9L1834.0 517.7L1836.5 517.4L1839.0 516.6L1841.5 515.8L1843.9 515.1L1846.4 514.6L1848.9 513.9L1851.3 513.3L1853.8 512.9L1856.3 512.7L1858.7 512.6L1861.2 512.3L1863.7 512.0L1866.2 511.5L1868.6 511.2L1871.1 511.0L1873.6 510.7L1876.0 510.3L1878.5 509.8L1881.0 509.2L1883.4 508.8L1885.9 508.2L1888.4 507.0L1890.9 505.1L1893.3 503.1L1895.8 501.1L1898.3 499.0L1900.7 497.0L1903.2 495.2L1905.7 493.6L1908.1 492.2L1910.6 490.8L1913.1 489.6L1915.6 488.7L1918.0 487.8L1920.5 487.0L1923.0 486.4L1925.4 486.2L1927.9 486.0L1930.4 485.9L1932.8 485.9L1935.3 485.6L1937.8 485.5L1940.3 485.6L1942.7 485.4L1945.2 485.4L1947.7 485.3L1950.1 485.2L1952.6 484.9L1955.1 484.5L1957.5 484.4L1960.0 484.4L1962.5 484.1L1965.0 483.8L1967.4 483.4L1969.9 483.0L1972.4 482.9L1974.8 483.1L1977.3 483.0L1979.8 483.2L1982.2 483.7L1984.7 484.3L1987.2 485.0L1989.7 485.3L1992.1 485.8L1994.6 486.5L1997.1 486.9L1999.5 486.8L2002.0 486.6L2004.5 486.5L2006.9 486.4L2009.4 486.3L2011.9 486.0L2014.4 485.7L2016.8 485.1L2019.3 484.6L2021.8 484.3L2024.2 484.0L2026.7 483.5L2029.2 483.0L2031.6 482.7L2034.1 482.3L2036.6 481.7L2039.1 481.3L2041.5 481.2L2044.0 481.2L2046.5 480.7L2048.9 480.0L2051.4 480.0L2053.9 479.9L2056.3 479.3L2058.8 478.6L2061.3 478.3L2063.8 478.7L2066.2 478.5L2068.7 477.8L2071.2 477.4L2073.6 477.5L2076.1 477.0L2078.6 476.2L2081.0 475.4L2083.5 474.3L2086.0 472.9L2088.5 472.0L2090.9 471.4L2093.4 469.8L2095.9 467.7L2098.3 466.2L2100.8 465.8L2103.3 465.6L2105.7 465.2L2108.2 464.9L2110.7 464.6L2113.2 464.9L2115.6 465.4L2117.5 465.9" stroke="#7D4E4E"/>
</g>
<g class="dashes" shape-rendering="crispEdges">
<path d="M307.00 351.00H338.00M359.20 351.00H389.60M410.82 351.00H441.22M462.44 351.00H492.84" stroke="#F14040" stroke-width="12" fill="none"/>
<path d="M504.00 361.25V391.65M504.00 412.87V443.27M504.00 464.49V494.89M504.00 516.11V546.51M504.00 567.73V598.13M504.00 619.35V649.75M504.00 670.97V701.37M504.00 722.59V752.99M504.00 774.21V804.61M504.00 825.83V856.23M504.00 877.45V907.85M504.00 929.07V959.47M504.00 980.69V1011.09M504.00 1032.31V1062.71M504.00 1083.93V1114.33M504.00 1135.55V1165.95M504.00 1187.17V1217.57M504.00 1238.79V1269.19M504.00 1290.41V1320.81M504.00 1342.03V1372.43M504.00 1393.65V1424.05M504.00 1445.27V1475.67M504.00 1496.89V1527.29" stroke="#F14040" stroke-width="12" fill="none"/>
<path d="M476.00 1551.00H505.90M424.10 1551.00H454.90M372.10 1551.00H402.90M321.00 1551.00H351.00" stroke="#F14040" stroke-width="12" fill="none"/>
<path d="M313.00 345.00V376.00M313.00 396.70V426.70M313.00 448.32V478.32M313.00 499.94V529.94M313.00 551.56V581.56M313.00 603.18V633.18M313.00 654.80V684.80M313.00 706.42V736.42M313.00 758.04V788.04M313.00 809.66V839.66M313.00 861.28V891.28M313.00 912.90V942.90M313.00 964.52V994.52M313.00 1016.14V1046.14M313.00 1067.76V1097.76M313.00 1119.38V1149.38M313.00 1171.00V1201.00M313.00 1222.62V1252.62M313.00 1274.24V1304.24M313.00 1325.86V1355.86M313.00 1377.48V1407.48M313.00 1429.10V1459.10M313.00 1480.72V1510.72M313.00 1532.00V1550.80" stroke="#F14040" stroke-width="12" fill="none"/>
<path d="M531.00 429.00H562.00M583.75 429.00H614.15M635.41 429.00H665.81M687.07 429.00H717.47M738.73 429.00H769.13" stroke="#1A6FDF" stroke-width="12" fill="none"/>
<path d="M774.00 445.00V475.40M774.00 496.62V527.02M774.00 548.24V578.64M774.00 599.86V630.26M774.00 651.48V681.88M774.00 703.10V733.50M774.00 754.72V785.12M774.00 806.34V836.74M774.00 857.96V888.36M774.00 909.58V939.98M774.00 961.20V991.60M774.00 1012.82V1043.22M774.00 1064.44V1094.84M774.00 1116.06V1146.46M774.00 1167.68V1198.08M774.00 1219.30V1249.70M774.00 1270.92V1301.32M774.00 1322.54V1352.94M774.00 1374.16V1404.56M774.00 1425.78V1456.18M774.00 1477.40V1507.80M774.00 1529.00V1560.00" stroke="#1A6FDF" stroke-width="12" fill="none"/>
<path d="M561.25 1555.40H591.75M613.25 1555.40H643.75M665.00 1555.40H695.75M717.00 1555.40H746.75" stroke="#1A6FDF" stroke-width="12" fill="none"/>
<path d="M537.00 423.00V452.50M537.00 473.75V504.15M537.00 525.41V555.81M537.00 577.07V607.47M537.00 628.73V659.13M537.00 680.39V710.79M537.00 732.05V762.45M537.00 783.71V814.11M537.00 835.37V865.77M537.00 887.03V917.43M537.00 938.69V969.09M537.00 990.35V1020.75M537.00 1042.01V1072.41M537.00 1093.67V1124.07M537.00 1145.33V1175.73M537.00 1196.99V1227.39M537.00 1248.65V1279.05M537.00 1300.31V1330.71M537.00 1351.97V1382.37M537.00 1403.63V1434.03M537.00 1455.29V1485.69M537.00 1506.95V1537.35" stroke="#1A6FDF" stroke-width="12" fill="none"/>
<path d="M1371.00 481.00V492.00M1371.00 513.00V543.40M1371.00 564.62V595.02M1371.00 616.24V646.64M1371.00 667.86V698.26M1371.00 719.48V749.88M1371.00 771.10V801.50M1371.00 822.72V853.12M1371.00 874.34V904.74M1371.00 925.96V956.36M1371.00 977.58V1007.98M1371.00 1029.20V1059.60M1371.00 1080.82V1111.22M1371.00 1132.44V1162.84M1371.00 1184.06V1214.46M1371.00 1235.68V1266.08M1371.00 1287.30V1317.70M1371.00 1338.92V1369.32M1371.00 1390.54V1420.94M1371.00 1442.16V1472.56M1371.00 1493.78V1524.18" stroke="#C000B0" stroke-width="12" fill="none"/><circle cx="1371.00" cy="481.00" r="6.0" fill="#C000B0"/>
<path d="M1508.50 485.00V493.75M1508.50 514.50V544.90M1508.50 566.12V596.52M1508.50 617.74V648.14M1508.50 669.36V699.76M1508.50 720.98V751.38M1508.50 772.60V803.00M1508.50 824.22V854.62M1508.50 875.84V906.24M1508.50 927.46V957.86M1508.50 979.08V1009.48M1508.50 1030.70V1061.10M1508.50 1082.32V1112.72M1508.50 1133.94V1164.34M1508.50 1185.56V1215.96M1508.50 1237.18V1267.58M1508.50 1288.80V1319.20M1508.50 1340.42V1370.82M1508.50 1392.04V1422.44M1508.50 1443.66V1474.06M1508.50 1495.28V1525.68" stroke="#B9B900" stroke-width="11" fill="none"/><circle cx="1508.50" cy="485.00" r="5.5" fill="#B9B900"/>
<path d="M1617.50 520.00V550.40M1617.50 571.62V602.02M1617.50 623.24V653.64M1617.50 674.86V705.26M1617.50 726.48V756.88M1617.50 778.10V808.50M1617.50 829.72V860.12M1617.50 881.34V911.74M1617.50 932.96V963.36M1617.50 984.58V1014.98M1617.50 1036.20V1066.60M1617.50 1087.82V1118.22M1617.50 1139.44V1169.84M1617.50 1191.06V1221.46M1617.50 1242.68V1273.08M1617.50 1294.30V1324.70M1617.50 1345.92V1376.32M1617.50 1397.54V1427.94M1617.50 1449.16V1479.56M1617.50 1500.78V1531.18" stroke="#37AD6B" stroke-width="11" fill="none"/>
<path d="M1741.50 468.75V499.15M1741.50 520.37V550.77M1741.50 571.99V602.39M1741.50 623.61V654.01M1741.50 675.23V705.63M1741.50 726.85V757.25M1741.50 778.47V808.87M1741.50 830.09V860.49M1741.50 881.71V912.11M1741.50 933.33V963.73M1741.50 984.95V1015.35M1741.50 1036.57V1066.97M1741.50 1088.19V1118.59M1741.50 1139.81V1170.21M1741.50 1191.43V1221.83M1741.50 1243.05V1273.45M1741.50 1294.67V1325.07M1741.50 1346.29V1376.69M1741.50 1397.91V1428.31M1741.50 1449.53V1479.93M1741.50 1501.15V1531.55" stroke="#CC9900" stroke-width="11" fill="none"/>
<path d="M1772.00 440.00V470.40M1772.00 491.62V522.02M1772.00 543.24V573.64M1772.00 594.86V625.26M1772.00 646.48V676.88M1772.00 698.10V728.50M1772.00 749.72V780.12M1772.00 801.34V831.74M1772.00 852.96V883.36M1772.00 904.58V934.98M1772.00 956.20V986.60M1772.00 1007.82V1038.22M1772.00 1059.44V1089.84M1772.00 1111.06V1141.46M1772.00 1162.68V1193.08M1772.00 1214.30V1244.70M1772.00 1265.92V1296.32M1772.00 1317.54V1347.94M1772.00 1369.16V1399.56M1772.00 1420.78V1451.18M1772.00 1472.40V1502.80M1772.00 1524.00V1539.00" stroke="#00CBCC" stroke-width="12" fill="none"/><circle cx="1772.00" cy="1539.00" r="6.0" fill="#00CBCC"/>
<path d="M1973.50 420.75V451.15M1973.50 472.37V502.77M1973.50 523.99V554.39M1973.50 575.61V606.01M1973.50 627.23V657.63M1973.50 678.85V709.25M1973.50 730.47V760.87M1973.50 782.09V812.49M1973.50 833.71V864.11M1973.50 885.33V915.73M1973.50 936.95V967.35M1973.50 988.57V1018.97M1973.50 1040.19V1070.59M1973.50 1091.81V1122.21M1973.50 1143.43V1173.83M1973.50 1195.05V1225.45M1973.50 1246.67V1277.07M1973.50 1298.29V1328.69M1973.50 1349.91V1380.31M1973.50 1401.53V1431.93M1973.50 1453.15V1483.55M1973.50 1504.80V1530.50" stroke="#8000FF" stroke-width="11" fill="none"/><circle cx="1973.50" cy="1530.50" r="5.5" fill="#8000FF"/>
<path d="M2041.50 418.00V448.40M2041.50 469.62V500.02M2041.50 521.24V551.64M2041.50 572.86V603.26M2041.50 624.48V654.88M2041.50 676.10V706.50M2041.50 727.72V758.12M2041.50 779.34V809.74M2041.50 830.96V861.36M2041.50 882.58V912.98M2041.50 934.20V964.60M2041.50 985.82V1016.22M2041.50 1037.44V1067.84M2041.50 1089.06V1119.46M2041.50 1140.68V1171.08M2041.50 1192.30V1222.70M2041.50 1243.92V1274.32M2041.50 1295.54V1325.94M2041.50 1347.16V1377.56M2041.50 1398.78V1429.18M2041.50 1450.40V1480.80M2041.50 1502.00V1522.00" stroke="#FF00FF" stroke-width="11" fill="none"/><circle cx="2041.50" cy="1522.00" r="5.5" fill="#FF00FF"/>
</g>
<g class="labels">
<text x="324" y="1701.8" font-size="103" fill="#000" text-anchor="middle">2400</text>
<text x="580" y="1701.8" font-size="103" fill="#000" text-anchor="middle">2200</text>
<text x="836" y="1701.8" font-size="103" fill="#000" text-anchor="middle">2000</text>
<text x="1092" y="1701.8" font-size="103" fill="#000" text-anchor="middle">1800</text>
<text x="1348" y="1701.8" font-size="103" fill="#000" text-anchor="middle">1600</text>
<text x="1604" y="1701.8" font-size="103" fill="#000" text-anchor="middle">1400</text>
<text x="1860" y="1701.8" font-size="103" fill="#000" text-anchor="middle">1200</text>
<text x="2116" y="1701.8" font-size="103" fill="#000" text-anchor="middle">1000</text>
<text x="603.2" y="1892.8" font-size="130.5">Wavenumber (cm<tspan font-size="87.5" dy="-55.3">-1</tspan><tspan dy="55.3">)</tspan></text>
<text transform="translate(131.7 1298.5) rotate(-90)" font-size="130.2">Absorbance (a.u.)</text>
<text y="175.9" font-size="87.35"><tspan x="438.6">CO oxidation over MnO</tspan><tspan x="1345.8" font-size="64.5" dy="23.6" font-style="italic">x</tspan><tspan x="1375.6" dy="-23.6">-Leaf at 220 °C</tspan></text>
<text x="989.9" y="499.5" font-size="87.5" fill="#000" text-anchor="start">60 min</text>
<text x="984.6" y="657.0" font-size="87.5" fill="#000" text-anchor="start">30 min</text>
<text x="986.7" y="807.5" font-size="87.5" fill="#000" text-anchor="start">20 min</text>
<text x="985.9" y="973.5" font-size="87.5" fill="#000" text-anchor="start">10 min</text>
<text x="984.4" y="1097.5" font-size="87.5" fill="#000" text-anchor="start">5 min</text>
<text x="988.1" y="1233.25" font-size="87.5" fill="#000" text-anchor="start">3 min</text>
<text x="988.4" y="1360.75" font-size="87.5" fill="#000" text-anchor="start">1 min</text>
<text x="987.1" y="1469.0" font-size="87.5" fill="#000" text-anchor="start">0 min</text>
<text x="344.5" y="304.8" font-size="81" fill="#F14040">CO<tspan font-size="53.5" dy="21.2">2</tspan></text>
<text x="596" y="394.6" font-size="80.8" fill="#1A6FDF">CO</text>
<text transform="translate(1387.5 475.1) rotate(-90)" font-size="80" fill="#C000B0">1589</text>
<text transform="translate(1528.75 485.1) rotate(-90)" font-size="80" fill="#B9B900">1477</text>
<text transform="translate(1631.7 476.4) rotate(-90)" font-size="80" fill="#37AD6B">1391</text>
<text transform="translate(1739.6 461.7) rotate(-90)" font-size="80" fill="#CC9900">1294</text>
<text transform="translate(1813 439.6) rotate(-90)" font-size="80" fill="#00CBCC">1268</text>
<text transform="translate(2000 391.9) rotate(-90)" font-size="80" fill="#8000FF">1112</text>
<text transform="translate(2072.2 409.4) rotate(-90)" font-size="80" fill="#FF00FF">1060</text>
</g>
</svg>
</body>
</html>
